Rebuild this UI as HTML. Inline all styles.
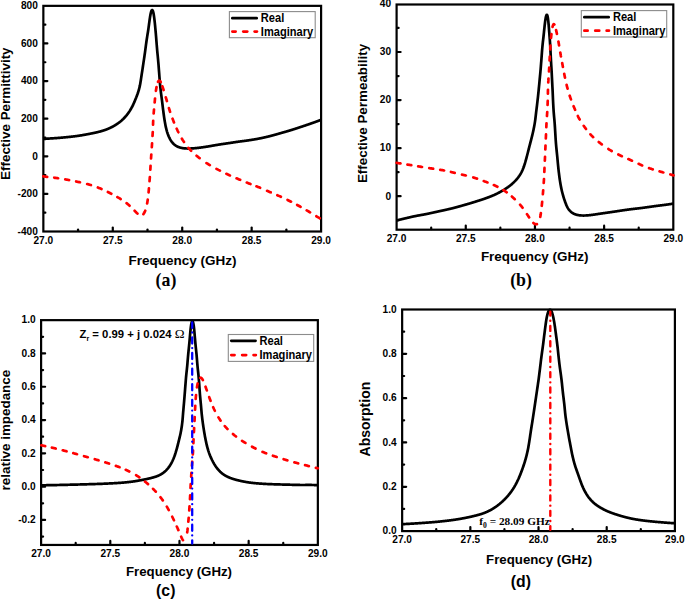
<!DOCTYPE html>
<html><head><meta charset="utf-8"><style>
html,body{margin:0;padding:0;background:#fff;}
svg{display:block;}
.fr{fill:none;stroke:#000;stroke-width:2.2;}
.t{stroke:#000;stroke-width:2.2;stroke-linecap:round;}
.tl{font-family:"Liberation Sans", sans-serif;font-weight:bold;font-size:10.15px;fill:#000;}
.re{fill:none;stroke:#000;stroke-width:2.7;stroke-linejoin:round;}
.im{fill:none;stroke:#f00;stroke-width:2.6;stroke-dasharray:4 7.3;stroke-linecap:round;stroke-linejoin:round;}
.imd{fill:none;stroke:#f00;stroke-width:2.7;stroke-linecap:round;stroke-linejoin:round;}
.ax{font-family:"Liberation Sans", sans-serif;font-weight:bold;font-size:13.25px;fill:#000;}
.lg{font-family:"Liberation Sans", sans-serif;font-weight:bold;font-size:11.1px;fill:#000;}
.lgre{stroke:#000;stroke-width:2.7;stroke-linecap:round;}
.pl{font-family:"Liberation Serif", serif;font-weight:bold;font-size:17.8px;fill:#000;}
.pls{font-family:"Liberation Sans", sans-serif;font-weight:bold;font-size:15.8px;fill:#000;}
.lgb{fill:#fff;stroke:#8c8c8c;stroke-width:1.1;}
.ddb{stroke:#00f;stroke-width:2.3;stroke-dasharray:6.1 4.6 0.01 4.9;stroke-linecap:round;}
.ddr{stroke:#f00;stroke-width:2.4;stroke-dasharray:5 5.2 0.01 5.2;stroke-linecap:round;}
.an{font-family:"Liberation Sans", sans-serif;font-weight:bold;font-size:11.3px;fill:#000;}
.om{font-family:"Liberation Serif", serif;font-weight:normal;font-size:13.2px;}
.an2{font-family:"Liberation Serif", serif;font-weight:bold;font-size:11.3px;fill:#000;}
</style></head><body>
<svg width="685" height="600" viewBox="0 0 685 600">
<line x1="78.07" y1="230.90" x2="78.07" y2="229.50" class="t"/>
<line x1="112.79" y1="230.90" x2="112.79" y2="227.50" class="t"/>
<line x1="147.51" y1="230.90" x2="147.51" y2="229.50" class="t"/>
<line x1="182.22" y1="230.90" x2="182.22" y2="227.50" class="t"/>
<line x1="216.94" y1="230.90" x2="216.94" y2="229.50" class="t"/>
<line x1="251.66" y1="230.90" x2="251.66" y2="227.50" class="t"/>
<line x1="286.38" y1="230.90" x2="286.38" y2="229.50" class="t"/>
<line x1="43.95" y1="212.70" x2="45.35" y2="212.70" class="t"/>
<line x1="43.95" y1="193.89" x2="47.35" y2="193.89" class="t"/>
<line x1="43.95" y1="175.09" x2="45.35" y2="175.09" class="t"/>
<line x1="43.95" y1="156.28" x2="47.35" y2="156.28" class="t"/>
<line x1="43.95" y1="137.48" x2="45.35" y2="137.48" class="t"/>
<line x1="43.95" y1="118.67" x2="47.35" y2="118.67" class="t"/>
<line x1="43.95" y1="99.87" x2="45.35" y2="99.87" class="t"/>
<line x1="43.95" y1="81.07" x2="47.35" y2="81.07" class="t"/>
<line x1="43.95" y1="62.26" x2="45.35" y2="62.26" class="t"/>
<line x1="43.95" y1="43.46" x2="47.35" y2="43.46" class="t"/>
<line x1="43.95" y1="24.65" x2="45.35" y2="24.65" class="t"/>
<rect x="43.35" y="5.85" width="277.75" height="225.65" class="fr"/>
<text x="37.85" y="234.80" class="tl" text-anchor="end">-400</text>
<text x="37.85" y="197.19" class="tl" text-anchor="end">-200</text>
<text x="37.85" y="159.58" class="tl" text-anchor="end">0</text>
<text x="37.85" y="121.97" class="tl" text-anchor="end">200</text>
<text x="37.85" y="84.37" class="tl" text-anchor="end">400</text>
<text x="37.85" y="46.76" class="tl" text-anchor="end">600</text>
<text x="37.85" y="9.15" class="tl" text-anchor="end">800</text>
<text x="43.35" y="243.80" class="tl" text-anchor="middle">27.0</text>
<text x="112.79" y="243.80" class="tl" text-anchor="middle">27.5</text>
<text x="182.22" y="243.80" class="tl" text-anchor="middle">28.0</text>
<text x="251.66" y="243.80" class="tl" text-anchor="middle">28.5</text>
<text x="321.10" y="243.80" class="tl" text-anchor="middle">29.0</text>
<line x1="431.19" y1="229.10" x2="431.19" y2="227.70" class="t"/>
<line x1="465.77" y1="229.10" x2="465.77" y2="225.70" class="t"/>
<line x1="500.36" y1="229.10" x2="500.36" y2="227.70" class="t"/>
<line x1="534.95" y1="229.10" x2="534.95" y2="225.70" class="t"/>
<line x1="569.54" y1="229.10" x2="569.54" y2="227.70" class="t"/>
<line x1="604.12" y1="229.10" x2="604.12" y2="225.70" class="t"/>
<line x1="638.71" y1="229.10" x2="638.71" y2="227.70" class="t"/>
<line x1="397.20" y1="220.23" x2="398.60" y2="220.23" class="t"/>
<line x1="397.20" y1="196.20" x2="400.60" y2="196.20" class="t"/>
<line x1="397.20" y1="172.17" x2="398.60" y2="172.17" class="t"/>
<line x1="397.20" y1="148.13" x2="400.60" y2="148.13" class="t"/>
<line x1="397.20" y1="124.10" x2="398.60" y2="124.10" class="t"/>
<line x1="397.20" y1="100.07" x2="400.60" y2="100.07" class="t"/>
<line x1="397.20" y1="76.03" x2="398.60" y2="76.03" class="t"/>
<line x1="397.20" y1="52.00" x2="400.60" y2="52.00" class="t"/>
<line x1="397.20" y1="27.97" x2="398.60" y2="27.97" class="t"/>
<rect x="396.60" y="4.50" width="276.70" height="225.20" class="fr"/>
<text x="391.10" y="199.50" class="tl" text-anchor="end">0</text>
<text x="391.10" y="151.43" class="tl" text-anchor="end">10</text>
<text x="391.10" y="103.37" class="tl" text-anchor="end">20</text>
<text x="391.10" y="55.30" class="tl" text-anchor="end">30</text>
<text x="391.10" y="7.23" class="tl" text-anchor="end">40</text>
<text x="396.60" y="242.00" class="tl" text-anchor="middle">27.0</text>
<text x="465.77" y="242.00" class="tl" text-anchor="middle">27.5</text>
<text x="534.95" y="242.00" class="tl" text-anchor="middle">28.0</text>
<text x="604.12" y="242.00" class="tl" text-anchor="middle">28.5</text>
<text x="673.30" y="242.00" class="tl" text-anchor="middle">29.0</text>
<line x1="75.69" y1="544.35" x2="75.69" y2="542.95" class="t"/>
<line x1="110.29" y1="544.35" x2="110.29" y2="540.95" class="t"/>
<line x1="144.88" y1="544.35" x2="144.88" y2="542.95" class="t"/>
<line x1="179.47" y1="544.35" x2="179.47" y2="540.95" class="t"/>
<line x1="214.07" y1="544.35" x2="214.07" y2="542.95" class="t"/>
<line x1="248.66" y1="544.35" x2="248.66" y2="540.95" class="t"/>
<line x1="283.26" y1="544.35" x2="283.26" y2="542.95" class="t"/>
<line x1="41.70" y1="536.62" x2="43.10" y2="536.62" class="t"/>
<line x1="41.70" y1="519.97" x2="45.10" y2="519.97" class="t"/>
<line x1="41.70" y1="503.32" x2="43.10" y2="503.32" class="t"/>
<line x1="41.70" y1="486.67" x2="45.10" y2="486.67" class="t"/>
<line x1="41.70" y1="470.02" x2="43.10" y2="470.02" class="t"/>
<line x1="41.70" y1="453.36" x2="45.10" y2="453.36" class="t"/>
<line x1="41.70" y1="436.71" x2="43.10" y2="436.71" class="t"/>
<line x1="41.70" y1="420.06" x2="45.10" y2="420.06" class="t"/>
<line x1="41.70" y1="403.41" x2="43.10" y2="403.41" class="t"/>
<line x1="41.70" y1="386.76" x2="45.10" y2="386.76" class="t"/>
<line x1="41.70" y1="370.11" x2="43.10" y2="370.11" class="t"/>
<line x1="41.70" y1="353.45" x2="45.10" y2="353.45" class="t"/>
<line x1="41.70" y1="336.80" x2="43.10" y2="336.80" class="t"/>
<rect x="41.10" y="320.15" width="276.75" height="224.80" class="fr"/>
<text x="35.60" y="523.27" class="tl" text-anchor="end">-0.2</text>
<text x="35.60" y="489.97" class="tl" text-anchor="end">0.0</text>
<text x="35.60" y="456.66" class="tl" text-anchor="end">0.2</text>
<text x="35.60" y="423.36" class="tl" text-anchor="end">0.4</text>
<text x="35.60" y="390.06" class="tl" text-anchor="end">0.6</text>
<text x="35.60" y="356.75" class="tl" text-anchor="end">0.8</text>
<text x="35.60" y="323.45" class="tl" text-anchor="end">1.0</text>
<text x="41.10" y="557.25" class="tl" text-anchor="middle">27.0</text>
<text x="110.29" y="557.25" class="tl" text-anchor="middle">27.5</text>
<text x="179.47" y="557.25" class="tl" text-anchor="middle">28.0</text>
<text x="248.66" y="557.25" class="tl" text-anchor="middle">28.5</text>
<text x="317.85" y="557.25" class="tl" text-anchor="middle">29.0</text>
<line x1="436.24" y1="530.50" x2="436.24" y2="529.10" class="t"/>
<line x1="470.34" y1="530.50" x2="470.34" y2="527.10" class="t"/>
<line x1="504.43" y1="530.50" x2="504.43" y2="529.10" class="t"/>
<line x1="538.52" y1="530.50" x2="538.52" y2="527.10" class="t"/>
<line x1="572.62" y1="530.50" x2="572.62" y2="529.10" class="t"/>
<line x1="606.71" y1="530.50" x2="606.71" y2="527.10" class="t"/>
<line x1="640.81" y1="530.50" x2="640.81" y2="529.10" class="t"/>
<line x1="402.75" y1="508.94" x2="404.15" y2="508.94" class="t"/>
<line x1="402.75" y1="486.78" x2="406.15" y2="486.78" class="t"/>
<line x1="402.75" y1="464.62" x2="404.15" y2="464.62" class="t"/>
<line x1="402.75" y1="442.46" x2="406.15" y2="442.46" class="t"/>
<line x1="402.75" y1="420.30" x2="404.15" y2="420.30" class="t"/>
<line x1="402.75" y1="398.14" x2="406.15" y2="398.14" class="t"/>
<line x1="402.75" y1="375.98" x2="404.15" y2="375.98" class="t"/>
<line x1="402.75" y1="353.82" x2="406.15" y2="353.82" class="t"/>
<line x1="402.75" y1="331.66" x2="404.15" y2="331.66" class="t"/>
<rect x="402.15" y="309.50" width="272.75" height="221.60" class="fr"/>
<text x="396.65" y="534.40" class="tl" text-anchor="end">0.0</text>
<text x="396.65" y="490.08" class="tl" text-anchor="end">0.2</text>
<text x="396.65" y="445.76" class="tl" text-anchor="end">0.4</text>
<text x="396.65" y="401.44" class="tl" text-anchor="end">0.6</text>
<text x="396.65" y="357.12" class="tl" text-anchor="end">0.8</text>
<text x="396.65" y="312.80" class="tl" text-anchor="end">1.0</text>
<text x="402.15" y="543.40" class="tl" text-anchor="middle">27.0</text>
<text x="470.34" y="543.40" class="tl" text-anchor="middle">27.5</text>
<text x="538.52" y="543.40" class="tl" text-anchor="middle">28.0</text>
<text x="606.71" y="543.40" class="tl" text-anchor="middle">28.5</text>
<text x="674.90" y="543.40" class="tl" text-anchor="middle">29.0</text>
<path d="M43.33,138.97 L43.57,138.95 L43.80,138.93 L44.03,138.91 L44.26,138.89 L44.49,138.87 L44.72,138.86 L44.96,138.84 L45.19,138.82 L45.42,138.80 L45.65,138.79 L45.88,138.77 L46.11,138.75 L46.35,138.73 L46.58,138.72 L46.81,138.70 L47.04,138.69 L47.27,138.67 L47.50,138.65 L47.74,138.64 L47.97,138.62 L48.20,138.61 L48.43,138.59 L48.66,138.58 L48.90,138.56 L49.13,138.55 L49.36,138.53 L49.59,138.52 L49.82,138.50 L50.06,138.49 L50.29,138.47 L50.52,138.46 L50.75,138.44 L50.98,138.43 L51.22,138.41 L51.45,138.40 L51.68,138.39 L51.91,138.37 L52.14,138.36 L52.38,138.34 L52.61,138.33 L52.84,138.32 L53.07,138.30 L53.30,138.29 L53.54,138.27 L53.77,138.26 L54.00,138.24 L54.23,138.23 L54.46,138.21 L54.70,138.20 L54.93,138.18 L55.16,138.17 L55.39,138.15 L55.62,138.13 L55.86,138.12 L56.09,138.10 L56.32,138.09 L56.55,138.07 L56.78,138.05 L57.02,138.03 L57.25,138.02 L57.48,138.00 L57.71,137.98 L57.94,137.96 L58.18,137.95 L58.41,137.93 L58.64,137.91 L58.87,137.89 L59.10,137.87 L59.33,137.85 L59.57,137.83 L59.80,137.81 L60.03,137.79 L60.26,137.77 L60.49,137.75 L60.72,137.73 L60.96,137.71 L61.19,137.69 L61.42,137.67 L61.65,137.65 L61.88,137.63 L62.11,137.61 L62.35,137.59 L62.58,137.57 L62.81,137.55 L63.04,137.53 L63.27,137.50 L63.50,137.48 L63.74,137.46 L63.97,137.44 L64.20,137.42 L64.43,137.40 L64.66,137.37 L64.89,137.35 L65.13,137.33 L65.36,137.31 L65.59,137.28 L65.82,137.26 L66.05,137.24 L66.28,137.22 L66.52,137.19 L66.75,137.17 L66.98,137.15 L67.21,137.12 L67.44,137.10 L67.67,137.08 L67.91,137.05 L68.14,137.03 L68.37,137.01 L68.60,136.98 L68.83,136.96 L69.06,136.93 L69.30,136.91 L69.53,136.89 L69.76,136.86 L69.99,136.84 L70.22,136.81 L70.46,136.79 L70.69,136.76 L70.92,136.74 L71.15,136.71 L71.38,136.69 L71.61,136.66 L71.84,136.63 L72.08,136.61 L72.31,136.58 L72.54,136.55 L72.77,136.53 L73.00,136.50 L73.23,136.47 L73.47,136.44 L73.70,136.42 L73.93,136.39 L74.16,136.36 L74.39,136.33 L74.62,136.30 L74.86,136.27 L75.09,136.25 L75.32,136.22 L75.55,136.19 L75.78,136.16 L76.01,136.13 L76.24,136.09 L76.48,136.06 L76.71,136.03 L76.94,136.00 L77.17,135.97 L77.40,135.94 L77.63,135.90 L77.86,135.87 L78.10,135.84 L78.33,135.80 L78.56,135.77 L78.79,135.74 L79.02,135.70 L79.25,135.67 L79.48,135.63 L79.71,135.59 L79.94,135.56 L80.18,135.52 L80.41,135.49 L80.64,135.45 L80.87,135.41 L81.10,135.37 L81.33,135.33 L81.56,135.30 L81.79,135.26 L82.02,135.22 L82.25,135.18 L82.48,135.14 L82.71,135.10 L82.95,135.06 L83.18,135.02 L83.41,134.98 L83.64,134.93 L83.87,134.89 L84.10,134.85 L84.33,134.81 L84.56,134.77 L84.79,134.73 L85.02,134.68 L85.25,134.64 L85.48,134.60 L85.71,134.56 L85.94,134.51 L86.17,134.47 L86.41,134.43 L86.64,134.38 L86.87,134.34 L87.10,134.30 L87.33,134.25 L87.56,134.21 L87.79,134.17 L88.02,134.12 L88.25,134.08 L88.48,134.03 L88.71,133.99 L88.95,133.95 L89.18,133.90 L89.41,133.86 L89.64,133.81 L89.87,133.77 L90.10,133.72 L90.33,133.68 L90.56,133.63 L90.79,133.59 L91.03,133.54 L91.26,133.50 L91.49,133.45 L91.72,133.40 L91.95,133.36 L92.18,133.31 L92.41,133.26 L92.65,133.22 L92.88,133.17 L93.11,133.12 L93.34,133.07 L93.57,133.03 L93.80,132.98 L94.04,132.93 L94.27,132.88 L94.50,132.83 L94.73,132.78 L94.96,132.73 L95.19,132.68 L95.43,132.63 L95.66,132.58 L95.89,132.52 L96.12,132.47 L96.35,132.42 L96.59,132.37 L96.82,132.31 L97.05,132.26 L97.28,132.20 L97.51,132.15 L97.74,132.09 L97.98,132.04 L98.21,131.98 L98.44,131.92 L98.67,131.87 L98.90,131.81 L99.14,131.75 L99.37,131.69 L99.60,131.63 L99.83,131.57 L100.06,131.51 L100.30,131.44 L100.53,131.38 L100.76,131.32 L100.99,131.25 L101.22,131.18 L101.46,131.12 L101.69,131.05 L101.92,130.98 L102.15,130.91 L102.38,130.84 L102.61,130.77 L102.85,130.70 L103.08,130.63 L103.31,130.56 L103.54,130.48 L103.77,130.41 L104.00,130.33 L104.23,130.25 L104.46,130.17 L104.69,130.09 L104.93,130.01 L105.16,129.93 L105.39,129.85 L105.62,129.77 L105.85,129.68 L106.08,129.60 L106.31,129.51 L106.54,129.42 L106.77,129.33 L107.00,129.24 L107.23,129.15 L107.46,129.06 L107.69,128.97 L107.92,128.87 L108.15,128.77 L108.38,128.68 L108.61,128.58 L108.84,128.48 L109.07,128.38 L109.29,128.28 L109.52,128.17 L109.75,128.07 L109.98,127.96 L110.21,127.86 L110.44,127.75 L110.67,127.64 L110.90,127.53 L111.13,127.42 L111.35,127.30 L111.58,127.19 L111.81,127.07 L112.04,126.95 L112.27,126.84 L112.50,126.72 L112.72,126.59 L112.95,126.47 L113.18,126.35 L113.41,126.22 L113.64,126.09 L113.86,125.96 L114.09,125.83 L114.32,125.70 L114.55,125.57 L114.78,125.43 L115.00,125.30 L115.23,125.16 L115.46,125.02 L115.69,124.88 L115.92,124.73 L116.14,124.59 L116.37,124.44 L116.60,124.29 L116.83,124.14 L117.06,123.99 L117.28,123.83 L117.51,123.67 L117.74,123.51 L117.97,123.35 L118.20,123.19 L118.43,123.02 L118.65,122.86 L118.88,122.69 L119.11,122.51 L119.34,122.34 L119.57,122.16 L119.80,121.98 L120.03,121.80 L120.26,121.61 L120.48,121.43 L120.71,121.24 L120.94,121.04 L121.17,120.85 L121.40,120.65 L121.63,120.45 L121.86,120.24 L122.09,120.03 L122.32,119.82 L122.55,119.61 L122.79,119.39 L123.02,119.17 L123.25,118.94 L123.48,118.71 L123.71,118.48 L123.94,118.24 L124.18,118.00 L124.41,117.76 L124.64,117.51 L124.87,117.26 L125.11,117.00 L125.34,116.74 L125.58,116.47 L125.81,116.20 L126.05,115.93 L126.28,115.65 L126.52,115.36 L126.75,115.07 L126.99,114.78 L127.23,114.47 L127.46,114.17 L127.70,113.85 L127.94,113.53 L128.17,113.21 L128.41,112.88 L128.65,112.54 L128.89,112.19 L129.13,111.84 L129.37,111.48 L129.60,111.11 L129.84,110.74 L130.08,110.35 L130.32,109.96 L130.56,109.56 L130.80,109.16 L131.04,108.74 L131.28,108.32 L131.52,107.88 L131.76,107.44 L132.00,106.99 L132.24,106.52 L132.48,106.05 L132.72,105.57 L132.96,105.07 L133.20,104.57 L133.44,104.05 L133.68,103.52 L133.92,102.98 L134.17,102.43 L134.41,101.87 L134.66,101.29 L134.91,100.70 L135.16,100.10 L135.41,99.48 L135.67,98.85 L135.92,98.21 L136.19,97.55 L136.45,96.87 L136.71,96.18 L136.98,95.47 L137.25,94.75 L137.52,94.01 L137.78,93.24 L138.05,92.46 L138.31,91.66 L138.56,90.83 L138.81,89.99 L139.05,89.12 L139.28,88.22 L139.50,87.31 L139.71,86.37 L139.92,85.40 L140.11,84.41 L140.30,83.39 L140.48,82.34 L140.65,81.27 L140.82,80.18 L141.00,79.05 L141.17,77.91 L141.35,76.73 L141.53,75.53 L141.72,74.30 L141.91,73.04 L142.11,71.76 L142.31,70.44 L142.52,69.10 L142.72,67.72 L142.94,66.32 L143.15,64.88 L143.37,63.42 L143.59,61.92 L143.82,60.39 L144.05,58.84 L144.29,57.25 L144.52,55.64 L144.76,53.99 L144.99,52.32 L145.22,50.62 L145.45,48.90 L145.68,47.16 L145.91,45.39 L146.15,43.61 L146.40,41.81 L146.65,40.01 L146.93,38.19 L147.22,36.38 L147.51,34.57 L147.81,32.76 L148.09,30.97 L148.35,29.19 L148.60,27.43 L148.83,25.70 L149.06,24.02 L149.28,22.38 L149.50,20.80 L149.71,19.29 L149.92,17.85 L150.13,16.50 L150.35,15.25 L150.57,14.10 L150.79,13.08 L151.01,12.18 L151.24,11.43 L151.46,10.83 L151.69,10.38 L151.92,10.11 L152.14,10.01 L152.35,10.09 L152.58,10.35 L152.81,10.81 L153.04,11.46 L153.28,12.31 L153.51,13.35 L153.73,14.59 L153.96,16.01 L154.19,17.62 L154.41,19.41 L154.64,21.36 L154.86,23.47 L155.09,25.72 L155.32,28.11 L155.55,30.62 L155.78,33.23 L156.01,35.94 L156.23,38.73 L156.46,41.58 L156.69,44.49 L156.93,47.43 L157.18,50.40 L157.47,53.37 L157.77,56.35 L158.05,59.32 L158.31,62.27 L158.55,65.20 L158.77,68.09 L158.98,70.94 L159.20,73.73 L159.41,76.48 L159.62,79.16 L159.84,81.78 L160.06,84.33 L160.30,86.81 L160.55,89.22 L160.82,91.55 L161.11,93.81 L161.40,95.99 L161.68,98.11 L161.94,100.15 L162.19,102.12 L162.42,104.02 L162.64,105.85 L162.85,107.61 L163.06,109.31 L163.27,110.94 L163.47,112.51 L163.67,114.02 L163.87,115.47 L164.07,116.86 L164.26,118.20 L164.46,119.48 L164.65,120.71 L164.85,121.89 L165.05,123.03 L165.25,124.11 L165.45,125.15 L165.65,126.15 L165.86,127.11 L166.07,128.03 L166.28,128.90 L166.50,129.75 L166.72,130.55 L166.94,131.33 L167.16,132.07 L167.39,132.78 L167.61,133.46 L167.84,134.11 L168.07,134.73 L168.30,135.33 L168.53,135.90 L168.76,136.45 L169.00,136.98 L169.23,137.48 L169.46,137.97 L169.70,138.43 L169.93,138.87 L170.17,139.30 L170.40,139.71 L170.64,140.10 L170.87,140.48 L171.11,140.84 L171.34,141.19 L171.58,141.52 L171.81,141.84 L172.05,142.14 L172.29,142.44 L172.52,142.72 L172.76,142.99 L172.99,143.25 L173.23,143.50 L173.46,143.73 L173.70,143.96 L173.94,144.18 L174.17,144.39 L174.41,144.60 L174.64,144.79 L174.88,144.98 L175.12,145.15 L175.35,145.32 L175.59,145.49 L175.82,145.65 L176.06,145.80 L176.30,145.94 L176.53,146.08 L176.77,146.21 L177.01,146.34 L177.24,146.46 L177.48,146.57 L177.71,146.68 L177.95,146.79 L178.18,146.89 L178.42,146.99 L178.66,147.08 L178.89,147.17 L179.13,147.26 L179.36,147.34 L179.60,147.41 L179.83,147.49 L180.07,147.56 L180.30,147.62 L180.54,147.69 L180.77,147.75 L181.01,147.80 L181.24,147.86 L181.48,147.91 L181.71,147.96 L181.94,148.00 L182.18,148.05 L182.41,148.09 L182.65,148.13 L182.88,148.16 L183.11,148.20 L183.35,148.23 L183.58,148.26 L183.82,148.29 L184.05,148.32 L184.28,148.34 L184.52,148.36 L184.75,148.39 L184.98,148.41 L185.21,148.42 L185.45,148.44 L185.68,148.46 L185.91,148.47 L186.15,148.48 L186.38,148.49 L186.61,148.50 L186.85,148.51 L187.08,148.52 L187.31,148.52 L187.54,148.53 L187.78,148.53 L188.01,148.53 L188.24,148.53 L188.47,148.53 L188.70,148.53 L188.94,148.53 L189.17,148.53 L189.40,148.52 L189.63,148.52 L189.87,148.51 L190.10,148.51 L190.33,148.50 L190.56,148.49 L190.79,148.48 L191.03,148.47 L191.26,148.46 L191.49,148.45 L191.72,148.44 L191.95,148.43 L192.18,148.41 L192.42,148.40 L192.65,148.39 L192.88,148.37 L193.11,148.35 L193.34,148.34 L193.57,148.32 L193.81,148.30 L194.04,148.28 L194.27,148.27 L194.50,148.25 L194.73,148.23 L194.96,148.20 L195.19,148.18 L195.42,148.16 L195.66,148.14 L195.89,148.12 L196.12,148.09 L196.35,148.07 L196.58,148.04 L196.81,148.02 L197.04,147.99 L197.27,147.97 L197.50,147.94 L197.74,147.92 L197.97,147.89 L198.20,147.86 L198.43,147.84 L198.66,147.81 L198.89,147.78 L199.12,147.75 L199.35,147.72 L199.58,147.69 L199.81,147.66 L200.04,147.63 L200.27,147.60 L200.51,147.57 L200.74,147.54 L200.97,147.51 L201.20,147.48 L201.43,147.45 L201.66,147.42 L201.89,147.38 L202.12,147.35 L202.35,147.32 L202.58,147.29 L202.81,147.25 L203.04,147.22 L203.27,147.19 L203.50,147.15 L203.73,147.12 L203.96,147.09 L204.19,147.05 L204.43,147.02 L204.66,146.98 L204.89,146.95 L205.12,146.92 L205.35,146.88 L205.58,146.85 L205.81,146.81 L206.04,146.77 L206.27,146.74 L206.50,146.70 L206.73,146.67 L206.96,146.63 L207.19,146.59 L207.42,146.56 L207.65,146.52 L207.88,146.48 L208.11,146.45 L208.34,146.41 L208.57,146.37 L208.80,146.33 L209.03,146.29 L209.26,146.26 L209.49,146.22 L209.72,146.18 L209.95,146.14 L210.18,146.10 L210.41,146.06 L210.64,146.02 L210.87,145.98 L211.10,145.94 L211.33,145.90 L211.56,145.86 L211.79,145.82 L212.02,145.78 L212.25,145.74 L212.48,145.70 L212.71,145.66 L212.94,145.62 L213.17,145.58 L213.40,145.53 L213.63,145.49 L213.86,145.45 L214.09,145.41 L214.32,145.37 L214.55,145.33 L214.78,145.29 L215.01,145.25 L215.24,145.21 L215.47,145.17 L215.70,145.13 L215.93,145.09 L216.17,145.05 L216.40,145.01 L216.63,144.98 L216.86,144.94 L217.09,144.90 L217.32,144.86 L217.55,144.82 L217.78,144.78 L218.01,144.75 L218.24,144.71 L218.47,144.67 L218.70,144.63 L218.93,144.60 L219.16,144.56 L219.39,144.52 L219.62,144.49 L219.86,144.45 L220.09,144.42 L220.32,144.38 L220.55,144.34 L220.78,144.31 L221.01,144.27 L221.24,144.24 L221.47,144.20 L221.70,144.17 L221.94,144.13 L222.17,144.10 L222.40,144.06 L222.63,144.03 L222.86,144.00 L223.09,143.96 L223.32,143.93 L223.56,143.89 L223.79,143.86 L224.02,143.83 L224.25,143.79 L224.48,143.76 L224.71,143.72 L224.94,143.69 L225.18,143.66 L225.41,143.62 L225.64,143.59 L225.87,143.56 L226.10,143.52 L226.33,143.49 L226.57,143.45 L226.80,143.42 L227.03,143.39 L227.26,143.35 L227.49,143.32 L227.72,143.28 L227.96,143.25 L228.19,143.22 L228.42,143.18 L228.65,143.15 L228.88,143.11 L229.11,143.08 L229.35,143.04 L229.58,143.01 L229.81,142.97 L230.04,142.94 L230.27,142.90 L230.50,142.87 L230.74,142.83 L230.97,142.80 L231.20,142.76 L231.43,142.73 L231.66,142.69 L231.89,142.66 L232.13,142.62 L232.36,142.59 L232.59,142.55 L232.82,142.51 L233.05,142.48 L233.29,142.44 L233.52,142.41 L233.75,142.37 L233.98,142.34 L234.21,142.30 L234.44,142.27 L234.68,142.23 L234.91,142.20 L235.14,142.16 L235.37,142.13 L235.60,142.09 L235.84,142.06 L236.07,142.02 L236.30,141.99 L236.53,141.95 L236.77,141.92 L237.00,141.89 L237.23,141.85 L237.46,141.82 L237.70,141.79 L237.93,141.75 L238.16,141.72 L238.39,141.69 L238.63,141.66 L238.86,141.62 L239.09,141.59 L239.33,141.56 L239.56,141.53 L239.79,141.50 L240.03,141.47 L240.26,141.44 L240.49,141.41 L240.73,141.38 L240.96,141.35 L241.19,141.32 L241.43,141.29 L241.66,141.26 L241.89,141.23 L242.13,141.20 L242.36,141.17 L242.59,141.14 L242.83,141.11 L243.06,141.08 L243.30,141.05 L243.53,141.02 L243.76,141.00 L244.00,140.97 L244.23,140.94 L244.47,140.91 L244.70,140.87 L244.93,140.84 L245.17,140.81 L245.40,140.78 L245.63,140.75 L245.87,140.72 L246.10,140.69 L246.34,140.66 L246.57,140.62 L246.80,140.59 L247.04,140.56 L247.27,140.52 L247.50,140.49 L247.74,140.46 L247.97,140.42 L248.20,140.39 L248.44,140.35 L248.67,140.32 L248.90,140.28 L249.14,140.25 L249.37,140.21 L249.60,140.18 L249.84,140.14 L250.07,140.10 L250.30,140.07 L250.54,140.03 L250.77,139.99 L251.00,139.96 L251.24,139.92 L251.47,139.88 L251.70,139.84 L251.94,139.81 L252.17,139.77 L252.40,139.73 L252.64,139.69 L252.87,139.65 L253.10,139.61 L253.34,139.58 L253.57,139.54 L253.80,139.50 L254.04,139.46 L254.27,139.42 L254.50,139.38 L254.74,139.34 L254.97,139.30 L255.20,139.26 L255.43,139.22 L255.67,139.18 L255.90,139.13 L256.13,139.09 L256.37,139.05 L256.60,139.01 L256.83,138.97 L257.07,138.93 L257.30,138.88 L257.53,138.84 L257.76,138.80 L258.00,138.75 L258.23,138.71 L258.46,138.67 L258.70,138.62 L258.93,138.58 L259.16,138.53 L259.39,138.49 L259.63,138.44 L259.86,138.40 L260.09,138.35 L260.32,138.30 L260.56,138.26 L260.79,138.21 L261.02,138.16 L261.25,138.11 L261.49,138.07 L261.72,138.02 L261.95,137.97 L262.18,137.92 L262.41,137.87 L262.65,137.82 L262.88,137.77 L263.11,137.72 L263.34,137.67 L263.57,137.62 L263.81,137.57 L264.04,137.52 L264.27,137.46 L264.50,137.41 L264.73,137.36 L264.97,137.31 L265.20,137.25 L265.43,137.20 L265.66,137.15 L265.89,137.09 L266.12,137.04 L266.35,136.99 L266.59,136.93 L266.82,136.88 L267.05,136.82 L267.28,136.77 L267.51,136.71 L267.74,136.66 L267.97,136.60 L268.20,136.54 L268.44,136.49 L268.67,136.43 L268.90,136.37 L269.13,136.32 L269.36,136.26 L269.59,136.20 L269.82,136.14 L270.05,136.08 L270.28,136.03 L270.52,135.97 L270.75,135.91 L270.98,135.85 L271.21,135.79 L271.44,135.73 L271.67,135.67 L271.90,135.61 L272.13,135.55 L272.36,135.49 L272.59,135.42 L272.82,135.36 L273.05,135.30 L273.28,135.24 L273.51,135.18 L273.74,135.11 L273.97,135.05 L274.20,134.99 L274.43,134.92 L274.66,134.86 L274.89,134.80 L275.12,134.73 L275.35,134.67 L275.58,134.60 L275.81,134.54 L276.04,134.47 L276.27,134.41 L276.50,134.34 L276.73,134.27 L276.96,134.21 L277.19,134.14 L277.42,134.08 L277.65,134.01 L277.88,133.94 L278.11,133.88 L278.34,133.81 L278.57,133.74 L278.80,133.68 L279.03,133.61 L279.26,133.54 L279.49,133.48 L279.72,133.41 L279.95,133.34 L280.18,133.28 L280.41,133.21 L280.64,133.15 L280.87,133.08 L281.10,133.01 L281.33,132.95 L281.56,132.88 L281.79,132.81 L282.02,132.75 L282.25,132.68 L282.49,132.62 L282.72,132.55 L282.95,132.48 L283.18,132.42 L283.41,132.35 L283.64,132.29 L283.87,132.22 L284.10,132.16 L284.33,132.09 L284.56,132.02 L284.79,131.96 L285.02,131.89 L285.25,131.83 L285.49,131.76 L285.72,131.69 L285.95,131.63 L286.18,131.56 L286.41,131.49 L286.64,131.43 L286.87,131.36 L287.10,131.29 L287.33,131.23 L287.56,131.16 L287.80,131.09 L288.03,131.02 L288.26,130.96 L288.49,130.89 L288.72,130.82 L288.95,130.75 L289.18,130.68 L289.41,130.61 L289.64,130.54 L289.87,130.48 L290.10,130.41 L290.33,130.34 L290.57,130.27 L290.80,130.20 L291.03,130.12 L291.26,130.05 L291.49,129.98 L291.72,129.91 L291.95,129.84 L292.18,129.77 L292.41,129.69 L292.64,129.62 L292.87,129.55 L293.10,129.47 L293.33,129.40 L293.56,129.33 L293.79,129.25 L294.02,129.18 L294.25,129.10 L294.48,129.03 L294.71,128.95 L294.94,128.88 L295.17,128.80 L295.40,128.73 L295.63,128.65 L295.86,128.57 L296.09,128.50 L296.32,128.42 L296.55,128.35 L296.78,128.27 L297.01,128.19 L297.24,128.12 L297.47,128.04 L297.70,127.96 L297.93,127.89 L298.16,127.81 L298.39,127.74 L298.62,127.66 L298.85,127.58 L299.08,127.51 L299.31,127.43 L299.54,127.35 L299.77,127.28 L300.00,127.20 L300.23,127.13 L300.46,127.05 L300.69,126.97 L300.92,126.90 L301.15,126.82 L301.38,126.75 L301.62,126.67 L301.85,126.59 L302.08,126.52 L302.31,126.44 L302.54,126.37 L302.77,126.29 L303.00,126.21 L303.23,126.14 L303.46,126.06 L303.70,125.98 L303.93,125.91 L304.16,125.83 L304.39,125.75 L304.62,125.68 L304.85,125.60 L305.08,125.52 L305.31,125.44 L305.55,125.37 L305.78,125.29 L306.01,125.21 L306.24,125.13 L306.47,125.06 L306.70,124.98 L306.93,124.90 L307.16,124.82 L307.40,124.74 L307.63,124.67 L307.86,124.59 L308.09,124.51 L308.32,124.43 L308.55,124.35 L308.79,124.27 L309.02,124.19 L309.25,124.11 L309.48,124.03 L309.71,123.95 L309.94,123.87 L310.17,123.79 L310.41,123.71 L310.64,123.63 L310.87,123.55 L311.10,123.47 L311.33,123.39 L311.56,123.31 L311.80,123.23 L312.03,123.15 L312.26,123.07 L312.49,122.98 L312.72,122.90 L312.95,122.82 L313.18,122.74 L313.42,122.66 L313.65,122.57 L313.88,122.49 L314.11,122.41 L314.34,122.32 L314.57,122.24 L314.81,122.16 L315.04,122.07 L315.27,121.99 L315.50,121.91 L315.73,121.82 L315.96,121.74 L316.19,121.65 L316.43,121.57 L316.66,121.48 L316.89,121.40 L317.12,121.31 L317.35,121.23 L317.58,121.14 L317.81,121.05 L318.05,120.97 L318.28,120.88 L318.51,120.80 L318.74,120.71 L318.97,120.62 L319.20,120.54 L319.44,120.45 L319.67,120.36 L319.90,120.27 L320.13,120.19 L320.36,120.10 L320.59,120.01 L320.82,119.92 L321.06,119.83" class="re"/>
<path d="M43.34,176.40 L43.89,176.46 L44.43,176.53 L44.99,176.60 L45.53,176.66 L46.09,176.73 L46.64,176.80 L47.18,176.86 M54.25,177.73 L54.81,177.80 L55.35,177.88 L55.91,177.95 L56.47,178.03 L57.02,178.10 L57.57,178.18 L58.12,178.26 M65.27,179.40 L65.81,179.50 L66.37,179.59 L66.91,179.69 L67.46,179.79 L68.01,179.89 L68.56,179.99 L69.11,180.09 M76.17,181.48 L76.71,181.60 L77.26,181.71 L77.80,181.83 L78.36,181.95 L78.90,182.07 L79.45,182.19 L79.98,182.30 M87.17,184.02 L87.69,184.16 L88.24,184.30 L88.77,184.45 L89.32,184.60 L89.85,184.76 L90.39,184.92 L90.92,185.07 M97.90,187.51 L98.40,187.71 L98.93,187.93 L99.44,188.14 L99.95,188.35 L100.46,188.57 L100.98,188.80 L101.49,189.02 M107.86,192.00 L108.35,192.24 L108.85,192.49 L109.34,192.74 L109.84,193.00 L110.34,193.25 L110.84,193.52 L111.34,193.77 M117.33,197.05 L117.79,197.31 L118.27,197.59 L118.75,197.87 L119.24,198.16 L119.72,198.45 L120.21,198.74 L120.68,199.03 M126.60,203.15 L127.02,203.50 L127.44,203.84 L127.87,204.20 L128.30,204.57 L128.72,204.95 L129.13,205.32 L129.55,205.70 M134.64,210.80 L135.04,211.21 L135.45,211.62 L135.85,212.02 L136.25,212.41 L136.65,212.80 L137.05,213.17 L137.44,213.51 M143.40,214.10 L143.65,213.78 L143.92,213.39 L144.18,212.96 L144.44,212.49 L144.70,211.94 L144.97,211.33 L145.23,210.68 M147.12,203.50 L147.21,203.00 L147.30,202.47 L147.39,201.93 L147.48,201.36 L147.57,200.78 L147.66,200.19 L147.74,199.65 M148.59,192.30 L148.64,191.81 L148.69,191.19 L148.74,190.67 L148.79,190.14 L148.83,189.61 L148.89,188.96 L148.93,188.41 M149.53,181.04 L149.57,180.57 L149.62,179.92 L149.66,179.39 L149.71,178.86 L149.75,178.32 L149.80,177.64 L149.84,177.15 M150.33,169.77 L150.36,169.26 L150.39,168.81 L150.42,168.19 L150.45,167.58 L150.48,166.95 L150.51,166.49 L150.54,165.88 M151.02,158.50 L151.05,158.06 L151.09,157.39 L151.13,156.88 L151.17,156.21 L151.21,155.70 L151.26,155.02 L151.29,154.61 M151.81,147.23 L151.85,146.71 L151.89,146.01 L151.93,145.48 L151.96,144.95 L152.00,144.42 L152.04,143.72 L152.06,143.33 M152.51,135.95 L152.54,135.57 L152.58,134.86 L152.61,134.33 L152.65,133.81 L152.68,133.28 L152.72,132.57 L152.75,132.06 M153.05,124.67 L153.07,124.24 L153.08,123.56 L153.10,123.06 L153.12,122.38 L153.14,121.88 L153.17,121.21 L153.19,120.77 M153.67,113.42 L153.72,112.85 L153.77,112.23 L153.82,111.63 L153.86,111.17 L153.91,110.57 L153.96,109.98 L154.00,109.53 M154.66,102.38 L154.71,101.82 L154.76,101.31 L154.82,100.69 L154.88,100.07 L154.94,99.46 L154.98,98.99 L155.03,98.50 M155.90,90.89 L155.99,90.34 L156.09,89.68 L156.18,89.12 L156.27,88.58 L156.36,88.07 L156.46,87.50 L156.55,87.05 M158.00,81.83 L158.35,81.23 L158.73,80.85 L159.19,80.67 L159.66,80.76 L160.06,81.06 L160.40,81.47 L160.73,82.02 M162.41,86.29 L162.57,86.81 L162.73,87.30 L162.90,87.84 L163.07,88.39 L163.24,88.95 L163.40,89.47 L163.57,90.02 M165.79,97.28 L165.95,97.83 L166.10,98.34 L166.27,98.90 L166.43,99.45 L166.59,100.00 L166.74,100.50 L166.89,101.02 M168.92,108.08 L169.07,108.58 L169.25,109.15 L169.41,109.68 L169.58,110.24 L169.75,110.76 L169.92,111.31 L170.08,111.80 M172.56,118.77 L172.77,119.31 L172.97,119.83 L173.18,120.37 L173.38,120.88 L173.59,121.41 L173.79,121.90 L173.99,122.40 M176.70,128.72 L176.94,129.25 L177.18,129.77 L177.42,130.28 L177.66,130.79 L177.91,131.29 L178.15,131.78 L178.38,132.24 M181.91,138.72 L182.20,139.20 L182.50,139.69 L182.81,140.17 L183.10,140.63 L183.40,141.10 L183.71,141.56 L184.01,142.00 M188.47,147.87 L188.84,148.30 L189.21,148.72 L189.60,149.14 L189.97,149.55 L190.35,149.96 L190.73,150.35 L191.11,150.74 M196.54,155.72 L196.98,156.07 L197.41,156.43 L197.85,156.78 L198.28,157.13 L198.72,157.48 L199.15,157.82 L199.59,158.15 M206.51,163.05 L206.97,163.34 L207.45,163.65 L207.92,163.94 L208.40,164.24 L208.87,164.53 L209.35,164.82 L209.82,165.10 M216.47,168.83 L216.96,169.09 L217.46,169.35 L217.96,169.61 L218.44,169.87 L218.94,170.12 L219.44,170.38 L219.93,170.63 M226.40,173.79 L226.90,174.02 L227.40,174.25 L227.91,174.49 L228.42,174.73 L228.93,174.96 L229.43,175.19 L229.94,175.41 M236.59,178.32 L237.10,178.54 L237.61,178.76 L238.12,178.98 L238.64,179.20 L239.15,179.42 L239.66,179.64 L240.17,179.85 M246.83,182.61 L247.33,182.81 L247.86,183.02 L248.38,183.22 L248.90,183.43 L249.42,183.63 L249.95,183.83 L250.46,184.03 M256.48,186.34 L256.99,186.53 L257.52,186.74 L258.03,186.95 L258.55,187.16 L259.07,187.37 L259.59,187.58 L260.10,187.79 M267.12,190.81 L267.63,191.03 L268.14,191.25 L268.65,191.48 L269.16,191.70 L269.68,191.92 L270.19,192.14 L270.70,192.36 M277.33,195.21 L277.84,195.43 L278.34,195.65 L278.85,195.88 L279.37,196.11 L279.88,196.34 L280.38,196.56 L280.89,196.79 M287.55,199.94 L288.04,200.18 L288.55,200.43 L289.04,200.68 L289.55,200.93 L290.04,201.18 L290.55,201.44 L291.03,201.69 M297.15,204.94 L297.63,205.20 L298.12,205.47 L298.61,205.74 L299.11,206.01 L299.60,206.28 L300.09,206.55 L300.56,206.82 M306.70,210.35 L307.17,210.63 L307.64,210.91 L308.13,211.20 L308.61,211.49 L309.09,211.78 L309.56,212.07 L310.04,212.36 M316.34,216.24 L316.81,216.53 L317.30,216.82 L317.78,217.10 L318.25,217.39 L318.73,217.67 L319.22,217.95 L319.70,218.23" class="imd"/>
<path d="M396.58,220.45 L396.81,220.40 L397.05,220.34 L397.28,220.28 L397.51,220.23 L397.74,220.17 L397.97,220.11 L398.20,220.06 L398.43,220.00 L398.66,219.94 L398.89,219.89 L399.12,219.83 L399.35,219.78 L399.58,219.72 L399.81,219.66 L400.04,219.61 L400.27,219.55 L400.50,219.50 L400.73,219.44 L400.96,219.38 L401.19,219.33 L401.42,219.27 L401.65,219.22 L401.88,219.16 L402.11,219.11 L402.34,219.05 L402.58,218.99 L402.81,218.94 L403.04,218.88 L403.27,218.83 L403.50,218.77 L403.73,218.72 L403.96,218.66 L404.19,218.61 L404.42,218.55 L404.65,218.50 L404.88,218.44 L405.11,218.39 L405.34,218.33 L405.57,218.28 L405.80,218.22 L406.03,218.17 L406.26,218.12 L406.49,218.06 L406.72,218.01 L406.95,217.95 L407.18,217.90 L407.41,217.84 L407.64,217.79 L407.88,217.74 L408.11,217.68 L408.34,217.63 L408.57,217.58 L408.80,217.52 L409.03,217.47 L409.26,217.42 L409.49,217.36 L409.72,217.31 L409.95,217.26 L410.18,217.21 L410.41,217.15 L410.64,217.10 L410.87,217.05 L411.10,217.00 L411.34,216.94 L411.57,216.89 L411.80,216.84 L412.03,216.79 L412.26,216.74 L412.49,216.69 L412.72,216.64 L412.95,216.59 L413.18,216.54 L413.41,216.49 L413.65,216.44 L413.88,216.39 L414.11,216.34 L414.34,216.29 L414.57,216.24 L414.80,216.20 L415.03,216.15 L415.27,216.10 L415.50,216.05 L415.73,216.01 L415.96,215.96 L416.19,215.91 L416.42,215.87 L416.66,215.82 L416.89,215.78 L417.12,215.74 L417.35,215.69 L417.59,215.65 L417.82,215.61 L418.05,215.56 L418.28,215.52 L418.52,215.48 L418.75,215.44 L418.98,215.40 L419.22,215.36 L419.45,215.31 L419.68,215.27 L419.91,215.23 L420.15,215.19 L420.38,215.15 L420.61,215.11 L420.85,215.07 L421.08,215.03 L421.31,214.99 L421.54,214.95 L421.78,214.91 L422.01,214.87 L422.24,214.83 L422.48,214.79 L422.71,214.74 L422.94,214.70 L423.17,214.66 L423.41,214.62 L423.64,214.57 L423.87,214.53 L424.10,214.49 L424.33,214.44 L424.57,214.40 L424.80,214.35 L425.03,214.31 L425.26,214.26 L425.49,214.22 L425.72,214.17 L425.96,214.12 L426.19,214.08 L426.42,214.03 L426.65,213.98 L426.88,213.94 L427.11,213.89 L427.34,213.84 L427.58,213.79 L427.81,213.74 L428.04,213.70 L428.27,213.65 L428.50,213.60 L428.73,213.55 L428.96,213.50 L429.19,213.45 L429.42,213.40 L429.65,213.35 L429.88,213.30 L430.11,213.25 L430.35,213.20 L430.58,213.15 L430.81,213.10 L431.04,213.05 L431.27,213.00 L431.50,212.95 L431.73,212.90 L431.96,212.85 L432.19,212.80 L432.42,212.75 L432.65,212.70 L432.88,212.65 L433.11,212.60 L433.34,212.55 L433.57,212.50 L433.80,212.44 L434.03,212.39 L434.26,212.34 L434.49,212.29 L434.72,212.24 L434.95,212.19 L435.19,212.14 L435.42,212.08 L435.65,212.03 L435.88,211.98 L436.11,211.93 L436.34,211.88 L436.57,211.83 L436.80,211.77 L437.03,211.72 L437.26,211.67 L437.49,211.62 L437.72,211.57 L437.95,211.52 L438.18,211.46 L438.41,211.41 L438.64,211.36 L438.87,211.31 L439.10,211.26 L439.33,211.21 L439.56,211.16 L439.79,211.11 L440.02,211.06 L440.25,211.01 L440.48,210.96 L440.72,210.91 L440.95,210.86 L441.18,210.81 L441.41,210.76 L441.64,210.71 L441.87,210.66 L442.10,210.61 L442.33,210.56 L442.56,210.51 L442.79,210.46 L443.02,210.41 L443.25,210.36 L443.49,210.31 L443.72,210.26 L443.95,210.21 L444.18,210.16 L444.41,210.11 L444.64,210.06 L444.87,210.01 L445.10,209.96 L445.33,209.91 L445.56,209.86 L445.79,209.81 L446.02,209.76 L446.26,209.71 L446.49,209.66 L446.72,209.60 L446.95,209.55 L447.18,209.50 L447.41,209.45 L447.64,209.40 L447.87,209.35 L448.10,209.29 L448.33,209.24 L448.56,209.19 L448.79,209.14 L449.02,209.08 L449.25,209.03 L449.48,208.98 L449.71,208.92 L449.94,208.87 L450.17,208.81 L450.40,208.76 L450.63,208.71 L450.86,208.65 L451.09,208.59 L451.32,208.54 L451.55,208.48 L451.78,208.43 L452.01,208.37 L452.24,208.31 L452.47,208.26 L452.70,208.20 L452.93,208.14 L453.16,208.08 L453.39,208.02 L453.62,207.96 L453.85,207.90 L454.08,207.85 L454.31,207.79 L454.54,207.72 L454.76,207.66 L454.99,207.60 L455.22,207.54 L455.45,207.48 L455.68,207.42 L455.91,207.36 L456.14,207.29 L456.37,207.23 L456.59,207.17 L456.82,207.11 L457.05,207.04 L457.28,206.98 L457.51,206.92 L457.74,206.85 L457.97,206.79 L458.19,206.72 L458.42,206.66 L458.65,206.60 L458.88,206.53 L459.11,206.47 L459.34,206.40 L459.56,206.34 L459.79,206.27 L460.02,206.21 L460.25,206.14 L460.48,206.08 L460.71,206.02 L460.94,205.95 L461.16,205.89 L461.39,205.82 L461.62,205.76 L461.85,205.69 L462.08,205.63 L462.31,205.56 L462.54,205.50 L462.76,205.43 L462.99,205.37 L463.22,205.30 L463.45,205.24 L463.68,205.17 L463.91,205.11 L464.14,205.04 L464.37,204.98 L464.59,204.91 L464.82,204.85 L465.05,204.78 L465.28,204.72 L465.51,204.65 L465.74,204.59 L465.97,204.52 L466.20,204.46 L466.42,204.39 L466.65,204.32 L466.88,204.26 L467.11,204.19 L467.34,204.13 L467.57,204.06 L467.80,203.99 L468.03,203.93 L468.25,203.86 L468.48,203.79 L468.71,203.72 L468.94,203.66 L469.17,203.59 L469.40,203.52 L469.63,203.45 L469.86,203.39 L470.08,203.32 L470.31,203.25 L470.54,203.18 L470.77,203.11 L471.00,203.04 L471.23,202.97 L471.46,202.90 L471.68,202.83 L471.91,202.76 L472.14,202.69 L472.37,202.62 L472.60,202.55 L472.83,202.48 L473.06,202.41 L473.29,202.34 L473.51,202.27 L473.74,202.20 L473.97,202.13 L474.20,202.06 L474.43,201.99 L474.66,201.92 L474.89,201.84 L475.12,201.77 L475.34,201.70 L475.57,201.63 L475.80,201.56 L476.03,201.48 L476.26,201.41 L476.49,201.34 L476.72,201.27 L476.95,201.19 L477.18,201.12 L477.40,201.05 L477.63,200.98 L477.86,200.90 L478.09,200.83 L478.32,200.76 L478.55,200.68 L478.78,200.61 L479.01,200.54 L479.24,200.46 L479.47,200.39 L479.70,200.31 L479.93,200.24 L480.16,200.16 L480.39,200.09 L480.62,200.02 L480.85,199.94 L481.08,199.87 L481.31,199.79 L481.54,199.71 L481.77,199.64 L482.00,199.56 L482.23,199.49 L482.46,199.41 L482.69,199.33 L482.92,199.26 L483.15,199.18 L483.38,199.10 L483.61,199.02 L483.84,198.94 L484.07,198.87 L484.30,198.79 L484.53,198.71 L484.76,198.63 L484.99,198.55 L485.22,198.47 L485.45,198.39 L485.68,198.30 L485.91,198.22 L486.15,198.14 L486.38,198.06 L486.61,197.97 L486.84,197.89 L487.07,197.81 L487.30,197.72 L487.53,197.64 L487.76,197.55 L487.99,197.47 L488.22,197.38 L488.45,197.29 L488.68,197.21 L488.91,197.12 L489.14,197.03 L489.38,196.94 L489.61,196.85 L489.84,196.76 L490.07,196.67 L490.30,196.58 L490.53,196.49 L490.76,196.39 L490.99,196.30 L491.22,196.21 L491.45,196.11 L491.69,196.02 L491.92,195.92 L492.15,195.82 L492.38,195.73 L492.61,195.63 L492.84,195.53 L493.07,195.43 L493.30,195.33 L493.53,195.23 L493.77,195.13 L494.00,195.03 L494.23,194.92 L494.46,194.82 L494.69,194.71 L494.92,194.61 L495.15,194.50 L495.38,194.40 L495.62,194.29 L495.85,194.18 L496.08,194.07 L496.31,193.96 L496.54,193.85 L496.77,193.74 L497.01,193.62 L497.24,193.51 L497.47,193.39 L497.70,193.28 L497.93,193.16 L498.17,193.04 L498.40,192.92 L498.63,192.80 L498.86,192.68 L499.09,192.56 L499.33,192.44 L499.56,192.32 L499.79,192.19 L500.03,192.07 L500.26,191.94 L500.49,191.81 L500.73,191.68 L500.96,191.55 L501.19,191.42 L501.43,191.29 L501.66,191.16 L501.89,191.02 L502.13,190.89 L502.36,190.75 L502.60,190.61 L502.83,190.47 L503.07,190.33 L503.30,190.19 L503.54,190.05 L503.78,189.91 L504.01,189.76 L504.25,189.61 L504.49,189.47 L504.72,189.32 L504.96,189.17 L505.20,189.01 L505.44,188.86 L505.68,188.70 L505.92,188.55 L506.16,188.39 L506.40,188.23 L506.64,188.07 L506.88,187.90 L507.12,187.74 L507.36,187.57 L507.60,187.40 L507.84,187.23 L508.08,187.06 L508.32,186.88 L508.57,186.70 L508.81,186.52 L509.05,186.34 L509.30,186.16 L509.54,185.97 L509.79,185.78 L510.03,185.59 L510.28,185.40 L510.52,185.20 L510.77,185.00 L511.01,184.80 L511.26,184.60 L511.51,184.39 L511.76,184.18 L512.00,183.97 L512.25,183.75 L512.50,183.53 L512.75,183.31 L513.00,183.08 L513.24,182.86 L513.49,182.62 L513.74,182.39 L513.99,182.15 L514.24,181.90 L514.49,181.65 L514.74,181.40 L514.99,181.15 L515.24,180.89 L515.49,180.62 L515.74,180.35 L515.98,180.08 L516.23,179.80 L516.48,179.52 L516.73,179.23 L516.98,178.94 L517.22,178.64 L517.47,178.34 L517.71,178.03 L517.96,177.71 L518.20,177.39 L518.45,177.07 L518.69,176.73 L518.93,176.39 L519.17,176.05 L519.41,175.70 L519.64,175.34 L519.88,174.98 L520.11,174.60 L520.35,174.23 L520.58,173.84 L520.81,173.45 L521.03,173.05 L521.26,172.64 L521.48,172.22 L521.70,171.80 L521.91,171.36 L522.13,170.92 L522.34,170.47 L522.55,170.01 L522.75,169.54 L522.95,169.06 L523.15,168.58 L523.35,168.08 L523.54,167.57 L523.73,167.06 L523.91,166.53 L524.09,166.00 L524.27,165.45 L524.45,164.90 L524.63,164.33 L524.80,163.75 L524.98,163.17 L525.15,162.57 L525.33,161.97 L525.50,161.35 L525.68,160.72 L525.86,160.08 L526.04,159.43 L526.22,158.77 L526.41,158.09 L526.59,157.41 L526.78,156.71 L526.97,155.99 L527.16,155.27 L527.35,154.52 L527.55,153.77 L527.75,152.99 L527.94,152.21 L528.15,151.40 L528.35,150.58 L528.56,149.74 L528.77,148.88 L528.99,148.01 L529.22,147.12 L529.45,146.21 L529.69,145.28 L529.94,144.32 L530.19,143.35 L530.45,142.36 L530.72,141.34 L530.99,140.30 L531.27,139.23 L531.55,138.14 L531.84,137.02 L532.12,135.87 L532.40,134.69 L532.69,133.49 L532.97,132.25 L533.25,130.98 L533.53,129.68 L533.80,128.34 L534.08,126.97 L534.34,125.57 L534.60,124.12 L534.84,122.64 L535.07,121.12 L535.28,119.56 L535.48,117.96 L535.67,116.32 L535.87,114.63 L536.07,112.91 L536.28,111.14 L536.50,109.33 L536.73,107.48 L536.96,105.59 L537.19,103.65 L537.42,101.66 L537.65,99.63 L537.89,97.55 L538.12,95.42 L538.34,93.24 L538.57,91.02 L538.79,88.75 L539.02,86.44 L539.25,84.08 L539.48,81.67 L539.71,79.22 L539.95,76.73 L540.19,74.20 L540.42,71.63 L540.64,69.03 L540.86,66.39 L541.07,63.73 L541.28,61.05 L541.49,58.34 L541.69,55.63 L541.89,52.91 L542.10,50.19 L542.33,47.49 L542.58,44.81 L542.86,42.15 L543.16,39.55 L543.46,36.99 L543.72,34.50 L543.97,32.08 L544.21,29.75 L544.44,27.53 L544.67,25.43 L544.90,23.47 L545.12,21.67 L545.35,20.03 L545.58,18.59 L545.81,17.34 L546.04,16.32 L546.27,15.54 L546.50,15.00 L546.72,14.74 L546.93,14.74 L547.15,15.00 L547.37,15.57 L547.60,16.43 L547.82,17.59 L548.04,19.04 L548.25,20.80 L548.46,22.84 L548.67,25.16 L548.88,27.75 L549.10,30.59 L549.34,33.68 L549.59,36.99 L549.87,40.50 L550.12,44.20 L550.35,48.07 L550.55,52.08 L550.75,56.22 L550.97,60.45 L551.22,64.76 L551.49,69.13 L551.74,73.53 L551.96,77.96 L552.18,82.38 L552.41,86.79 L552.63,91.17 L552.82,95.50 L553.00,99.78 L553.21,103.99 L553.44,108.12 L553.70,112.16 L554.03,116.11 L554.39,119.95 L554.69,123.70 L554.94,127.34 L555.15,130.87 L555.36,134.30 L555.55,137.61 L555.77,140.82 L556.00,143.90 L556.26,146.88 L556.54,149.75 L556.83,152.51 L557.10,155.16 L557.35,157.71 L557.58,160.17 L557.81,162.52 L558.02,164.79 L558.23,166.96 L558.45,169.04 L558.67,171.03 L558.90,172.95 L559.13,174.78 L559.35,176.53 L559.58,178.21 L559.81,179.82 L560.05,181.36 L560.28,182.83 L560.52,184.24 L560.76,185.59 L561.01,186.88 L561.26,188.11 L561.51,189.29 L561.76,190.42 L562.01,191.49 L562.27,192.52 L562.53,193.51 L562.78,194.45 L563.04,195.35 L563.29,196.21 L563.54,197.03 L563.78,197.82 L564.02,198.58 L564.25,199.30 L564.48,200.00 L564.71,200.67 L564.92,201.31 L565.14,201.92 L565.35,202.51 L565.56,203.08 L565.77,203.62 L565.97,204.14 L566.18,204.64 L566.38,205.13 L566.59,205.59 L566.79,206.03 L567.00,206.46 L567.20,206.87 L567.41,207.26 L567.62,207.64 L567.83,208.00 L568.04,208.35 L568.25,208.68 L568.47,209.00 L568.68,209.31 L568.90,209.60 L569.12,209.88 L569.33,210.15 L569.55,210.41 L569.77,210.66 L569.99,210.90 L570.22,211.13 L570.44,211.35 L570.66,211.56 L570.89,211.76 L571.11,211.96 L571.34,212.14 L571.56,212.32 L571.79,212.49 L572.02,212.66 L572.25,212.81 L572.47,212.96 L572.70,213.11 L572.93,213.24 L573.16,213.38 L573.39,213.50 L573.62,213.62 L573.85,213.74 L574.08,213.85 L574.31,213.95 L574.55,214.05 L574.78,214.15 L575.01,214.24 L575.24,214.32 L575.47,214.41 L575.70,214.48 L575.94,214.56 L576.17,214.63 L576.40,214.70 L576.63,214.76 L576.87,214.82 L577.10,214.88 L577.33,214.93 L577.56,214.98 L577.80,215.03 L578.03,215.08 L578.26,215.12 L578.49,215.16 L578.73,215.20 L578.96,215.23 L579.19,215.27 L579.42,215.30 L579.66,215.33 L579.89,215.35 L580.12,215.38 L580.35,215.40 L580.59,215.42 L580.82,215.44 L581.05,215.45 L581.28,215.47 L581.51,215.48 L581.75,215.49 L581.98,215.50 L582.21,215.51 L582.44,215.52 L582.68,215.52 L582.91,215.53 L583.14,215.53 L583.37,215.53 L583.60,215.53 L583.84,215.53 L584.07,215.53 L584.30,215.52 L584.53,215.52 L584.76,215.51 L584.99,215.51 L585.22,215.50 L585.46,215.49 L585.69,215.48 L585.92,215.47 L586.15,215.46 L586.38,215.44 L586.61,215.43 L586.84,215.41 L587.08,215.40 L587.31,215.38 L587.54,215.36 L587.77,215.34 L588.00,215.33 L588.23,215.31 L588.46,215.28 L588.69,215.26 L588.92,215.24 L589.15,215.22 L589.38,215.19 L589.61,215.17 L589.84,215.15 L590.08,215.12 L590.31,215.09 L590.54,215.07 L590.77,215.04 L591.00,215.01 L591.23,214.98 L591.46,214.95 L591.69,214.92 L591.92,214.89 L592.15,214.86 L592.38,214.83 L592.61,214.80 L592.84,214.77 L593.07,214.74 L593.30,214.71 L593.53,214.67 L593.76,214.64 L593.99,214.61 L594.22,214.57 L594.45,214.54 L594.68,214.51 L594.91,214.47 L595.14,214.44 L595.37,214.40 L595.59,214.37 L595.82,214.34 L596.05,214.30 L596.28,214.27 L596.51,214.23 L596.74,214.20 L596.97,214.16 L597.20,214.13 L597.43,214.09 L597.66,214.06 L597.89,214.02 L598.12,213.99 L598.35,213.95 L598.58,213.92 L598.81,213.89 L599.04,213.85 L599.27,213.82 L599.50,213.78 L599.73,213.75 L599.96,213.71 L600.19,213.68 L600.42,213.65 L600.65,213.61 L600.88,213.58 L601.11,213.54 L601.34,213.51 L601.57,213.48 L601.80,213.44 L602.03,213.41 L602.26,213.38 L602.49,213.34 L602.72,213.31 L602.95,213.28 L603.18,213.24 L603.41,213.21 L603.64,213.18 L603.87,213.14 L604.11,213.11 L604.34,213.08 L604.57,213.04 L604.80,213.01 L605.03,212.98 L605.26,212.95 L605.49,212.91 L605.72,212.88 L605.95,212.85 L606.18,212.81 L606.41,212.78 L606.64,212.75 L606.87,212.72 L607.10,212.68 L607.33,212.65 L607.56,212.62 L607.79,212.58 L608.02,212.55 L608.25,212.52 L608.48,212.49 L608.71,212.45 L608.94,212.42 L609.17,212.39 L609.40,212.35 L609.64,212.32 L609.87,212.29 L610.10,212.25 L610.33,212.22 L610.56,212.19 L610.79,212.15 L611.02,212.12 L611.25,212.09 L611.48,212.05 L611.71,212.02 L611.94,211.99 L612.17,211.95 L612.40,211.92 L612.63,211.89 L612.86,211.85 L613.09,211.82 L613.32,211.78 L613.55,211.75 L613.78,211.71 L614.01,211.68 L614.24,211.65 L614.47,211.61 L614.70,211.58 L614.93,211.54 L615.16,211.51 L615.39,211.47 L615.62,211.44 L615.85,211.40 L616.08,211.37 L616.31,211.33 L616.54,211.30 L616.77,211.26 L617.00,211.23 L617.23,211.19 L617.46,211.16 L617.70,211.12 L617.93,211.09 L618.16,211.05 L618.39,211.02 L618.62,210.98 L618.85,210.95 L619.08,210.91 L619.31,210.87 L619.54,210.84 L619.77,210.80 L620.00,210.77 L620.23,210.73 L620.46,210.70 L620.69,210.66 L620.92,210.63 L621.15,210.59 L621.38,210.56 L621.61,210.52 L621.84,210.49 L622.07,210.46 L622.30,210.42 L622.53,210.39 L622.76,210.35 L622.99,210.32 L623.22,210.28 L623.45,210.25 L623.68,210.22 L623.91,210.18 L624.14,210.15 L624.37,210.12 L624.60,210.08 L624.83,210.05 L625.06,210.02 L625.29,209.98 L625.52,209.95 L625.75,209.92 L625.98,209.89 L626.22,209.85 L626.45,209.82 L626.68,209.79 L626.91,209.76 L627.14,209.73 L627.37,209.69 L627.60,209.66 L627.83,209.63 L628.06,209.60 L628.29,209.57 L628.52,209.54 L628.75,209.51 L628.98,209.48 L629.21,209.45 L629.44,209.42 L629.68,209.39 L629.91,209.36 L630.14,209.33 L630.37,209.30 L630.60,209.27 L630.83,209.24 L631.06,209.21 L631.29,209.18 L631.52,209.15 L631.75,209.12 L631.99,209.09 L632.22,209.07 L632.45,209.04 L632.68,209.01 L632.91,208.98 L633.14,208.96 L633.37,208.93 L633.60,208.90 L633.84,208.88 L634.07,208.85 L634.30,208.82 L634.53,208.80 L634.76,208.77 L634.99,208.75 L635.22,208.72 L635.46,208.70 L635.69,208.67 L635.92,208.65 L636.15,208.62 L636.38,208.60 L636.61,208.57 L636.84,208.54 L637.08,208.52 L637.31,208.49 L637.54,208.47 L637.77,208.44 L638.00,208.42 L638.23,208.39 L638.46,208.36 L638.70,208.34 L638.93,208.31 L639.16,208.28 L639.39,208.26 L639.62,208.23 L639.85,208.20 L640.08,208.17 L640.31,208.14 L640.54,208.11 L640.78,208.08 L641.01,208.06 L641.24,208.03 L641.47,208.00 L641.70,207.97 L641.93,207.94 L642.16,207.90 L642.39,207.87 L642.62,207.84 L642.85,207.81 L643.08,207.78 L643.31,207.75 L643.55,207.72 L643.78,207.69 L644.01,207.66 L644.24,207.62 L644.47,207.59 L644.70,207.56 L644.93,207.53 L645.16,207.50 L645.39,207.46 L645.62,207.43 L645.85,207.40 L646.08,207.37 L646.31,207.34 L646.54,207.30 L646.77,207.27 L647.00,207.24 L647.23,207.21 L647.47,207.18 L647.70,207.14 L647.93,207.11 L648.16,207.08 L648.39,207.05 L648.62,207.01 L648.85,206.98 L649.08,206.95 L649.31,206.92 L649.54,206.89 L649.77,206.85 L650.00,206.82 L650.23,206.79 L650.46,206.76 L650.69,206.72 L650.92,206.69 L651.16,206.66 L651.39,206.63 L651.62,206.60 L651.85,206.56 L652.08,206.53 L652.31,206.50 L652.54,206.47 L652.77,206.43 L653.00,206.40 L653.23,206.37 L653.46,206.34 L653.69,206.31 L653.92,206.28 L654.15,206.24 L654.38,206.21 L654.62,206.18 L654.85,206.15 L655.08,206.12 L655.31,206.09 L655.54,206.06 L655.77,206.02 L656.00,205.99 L656.23,205.96 L656.46,205.93 L656.69,205.90 L656.92,205.87 L657.16,205.84 L657.39,205.81 L657.62,205.78 L657.85,205.75 L658.08,205.72 L658.31,205.69 L658.54,205.66 L658.77,205.63 L659.00,205.60 L659.24,205.58 L659.47,205.55 L659.70,205.52 L659.93,205.49 L660.16,205.46 L660.39,205.43 L660.62,205.40 L660.85,205.38 L661.09,205.35 L661.32,205.32 L661.55,205.29 L661.78,205.26 L662.01,205.23 L662.24,205.21 L662.47,205.18 L662.70,205.15 L662.94,205.12 L663.17,205.09 L663.40,205.06 L663.63,205.03 L663.86,205.00 L664.09,204.97 L664.32,204.94 L664.55,204.91 L664.79,204.88 L665.02,204.85 L665.25,204.82 L665.48,204.79 L665.71,204.76 L665.94,204.73 L666.17,204.69 L666.40,204.66 L666.63,204.63 L666.86,204.60 L667.10,204.57 L667.33,204.53 L667.56,204.50 L667.79,204.47 L668.02,204.44 L668.25,204.40 L668.48,204.37 L668.71,204.34 L668.94,204.30 L669.17,204.27 L669.40,204.24 L669.63,204.20 L669.87,204.17 L670.10,204.13 L670.33,204.10 L670.56,204.06 L670.79,204.03 L671.02,204.00 L671.25,203.96 L671.48,203.93 L671.71,203.89 L671.94,203.86 L672.17,203.82 L672.40,203.79 L672.63,203.75 L672.86,203.72 L673.09,203.68 L673.33,203.65" class="re"/>
<path d="M396.65,162.94 L397.19,163.01 L397.75,163.07 L398.29,163.14 L398.83,163.22 L399.37,163.29 L399.92,163.37 L400.46,163.45 M407.43,164.60 L407.98,164.69 L408.53,164.78 L409.08,164.87 L409.63,164.95 L410.18,165.04 L410.74,165.13 L411.28,165.21 M418.19,166.32 L418.74,166.42 L419.29,166.51 L419.84,166.61 L420.39,166.70 L420.94,166.80 L421.49,166.89 L422.03,166.98 M429.27,168.14 L429.81,168.22 L430.37,168.30 L430.92,168.38 L431.48,168.46 L432.03,168.54 L432.58,168.62 L433.13,168.70 M440.22,169.80 L440.77,169.90 L441.31,169.99 L441.87,170.09 L442.42,170.19 L442.97,170.30 L443.52,170.40 L444.06,170.50 M450.92,171.95 L451.46,172.07 L452.01,172.20 L452.55,172.33 L453.10,172.46 L453.64,172.58 L454.19,172.72 L454.72,172.84 M462.01,174.59 L462.54,174.71 L463.09,174.84 L463.63,174.97 L464.18,175.10 L464.72,175.23 L465.27,175.36 L465.81,175.48 M473.30,177.46 L473.83,177.62 L474.36,177.78 L474.89,177.95 L475.43,178.12 L475.96,178.29 L476.49,178.47 L477.02,178.64 M483.81,181.05 L484.32,181.25 L484.84,181.44 L485.37,181.64 L485.89,181.84 L486.41,182.05 L486.94,182.25 L487.45,182.45 M493.88,185.09 L494.38,185.31 L494.89,185.54 L495.40,185.77 L495.90,186.00 L496.41,186.24 L496.92,186.48 L497.42,186.72 M503.46,190.09 L503.93,190.39 L504.38,190.69 L504.85,191.00 L505.31,191.32 L505.78,191.64 L506.23,191.97 L506.68,192.30 M511.88,196.55 L512.29,196.91 L512.70,197.29 L513.11,197.66 L513.51,198.03 L513.93,198.42 L514.34,198.81 L514.75,199.19 M520.10,204.73 L520.46,205.14 L520.81,205.56 L521.17,205.99 L521.53,206.43 L521.89,206.87 L522.24,207.31 L522.58,207.75 M527.01,214.17 L527.31,214.63 L527.62,215.11 L527.92,215.57 L528.22,216.04 L528.52,216.50 L528.84,216.98 L529.14,217.44 M533.43,222.97 L533.89,223.37 L534.36,223.72 L534.85,224.00 L535.34,224.19 L535.85,224.30 L536.39,224.27 L536.92,224.11 M540.25,216.92 L540.34,216.47 L540.44,215.93 L540.53,215.41 L540.63,214.82 L540.71,214.26 L540.81,213.61 L540.89,213.07 M541.76,205.77 L541.81,205.36 L541.87,204.76 L541.92,204.25 L541.99,203.62 L542.04,203.09 L542.11,202.44 L542.16,201.89 M542.86,194.17 L542.91,193.64 L542.95,193.08 L543.00,192.51 L543.05,191.94 L543.09,191.36 L543.14,190.77 L543.18,190.28 M543.72,183.00 L543.75,182.62 L543.79,181.93 L543.83,181.41 L543.86,180.88 L543.90,180.35 L543.94,179.63 L543.98,179.11 M544.34,171.84 L544.36,171.26 L544.39,170.66 L544.41,170.05 L544.42,169.64 L544.45,169.03 L544.47,168.41 L544.49,167.94 M544.83,160.68 L544.85,160.21 L544.88,159.77 L544.91,159.09 L544.94,158.41 L544.98,157.73 L545.00,157.27 L545.03,156.78 M545.34,149.51 L545.35,149.23 L545.38,148.50 L545.40,148.01 L545.43,147.28 L545.45,146.78 L545.48,146.04 L545.50,145.61 M545.83,138.35 L545.85,137.95 L545.89,137.18 L545.91,136.66 L545.94,136.14 L545.96,135.62 L545.99,134.84 L546.01,134.45 M546.31,127.18 L546.33,126.90 L546.36,126.09 L546.39,125.56 L546.41,125.02 L546.44,124.48 L546.48,123.67 L546.49,123.28 M546.95,116.02 L546.99,115.53 L547.03,114.99 L547.07,114.44 L547.12,113.62 L547.16,113.08 L547.19,112.53 L547.22,112.13 M547.58,104.86 L547.60,104.33 L547.62,103.78 L547.65,103.24 L547.68,102.42 L547.70,101.88 L547.72,101.33 L547.73,100.97 M547.90,93.69 L547.90,93.23 L547.91,92.69 L547.92,92.16 L547.93,91.36 L547.94,90.83 L547.96,90.29 L547.97,89.79 M548.25,82.52 L548.26,82.21 L548.30,81.44 L548.33,80.93 L548.38,80.17 L548.40,79.67 L548.45,78.91 L548.47,78.63 M548.98,71.37 L549.01,70.84 L549.04,70.37 L549.08,69.66 L549.11,69.19 L549.15,68.49 L549.18,68.02 L549.21,67.48 M549.57,60.49 L549.60,60.02 L549.63,59.38 L549.67,58.75 L549.69,58.33 L549.72,57.71 L549.75,57.09 L549.78,56.59 M550.19,49.41 L550.21,49.05 L550.25,48.34 L550.29,47.81 L550.33,47.12 L550.37,46.61 L550.41,45.94 L550.44,45.52 M551.05,37.99 L551.10,37.41 L551.15,36.91 L551.21,36.29 L551.27,35.69 L551.33,35.11 L551.38,34.66 L551.45,34.11 M552.54,26.91 L552.81,25.85 L553.07,25.07 L553.33,24.52 L553.60,24.22 L553.86,24.14 L554.11,24.27 L554.37,24.58 M556.09,30.08 L556.21,30.59 L556.32,31.08 L556.44,31.64 L556.57,32.21 L556.69,32.79 L556.80,33.32 L556.92,33.89 M558.42,41.59 L558.51,42.09 L558.62,42.70 L558.71,43.24 L558.81,43.78 L558.90,44.33 L559.01,44.94 L559.09,45.43 M560.28,52.58 L560.37,53.10 L560.48,53.70 L560.57,54.24 L560.67,54.84 L560.77,55.37 L560.87,55.96 L560.96,56.42 M562.20,63.13 L562.30,63.63 L562.40,64.19 L562.51,64.74 L562.62,65.35 L562.72,65.89 L562.82,66.43 L562.92,66.96 M564.23,73.88 L564.33,74.39 L564.45,74.99 L564.55,75.52 L564.67,76.11 L564.78,76.64 L564.90,77.21 L565.00,77.70 M566.62,84.93 L566.75,85.47 L566.90,86.06 L567.03,86.60 L567.17,87.13 L567.31,87.66 L567.46,88.22 L567.59,88.70 M569.69,95.71 L569.87,96.26 L570.06,96.81 L570.24,97.35 L570.41,97.84 L570.60,98.37 L570.78,98.89 L570.96,99.40 M573.58,106.18 L573.80,106.71 L574.00,107.22 L574.22,107.76 L574.44,108.29 L574.66,108.81 L574.86,109.30 L575.06,109.79 M577.84,116.02 L578.09,116.54 L578.35,117.05 L578.61,117.55 L578.88,118.06 L579.14,118.55 L579.40,119.02 L579.65,119.48 M583.72,125.84 L584.05,126.31 L584.37,126.76 L584.71,127.22 L585.04,127.67 L585.37,128.12 L585.69,128.55 L586.02,128.99 M590.44,134.36 L590.83,134.78 L591.21,135.20 L591.60,135.60 L591.98,135.99 L592.37,136.39 L592.76,136.78 L593.15,137.16 M598.72,141.99 L599.16,142.34 L599.61,142.69 L600.04,143.03 L600.49,143.38 L600.93,143.72 L601.38,144.06 L601.80,144.38 M608.34,148.98 L608.81,149.28 L609.28,149.58 L609.76,149.87 L610.24,150.16 L610.72,150.45 L611.19,150.73 L611.67,151.00 M618.33,154.49 L618.83,154.73 L619.34,154.98 L619.84,155.22 L620.34,155.45 L620.84,155.69 L621.35,155.93 L621.85,156.16 M628.39,159.11 L628.90,159.33 L629.40,159.56 L629.92,159.79 L630.43,160.01 L630.94,160.24 L631.45,160.46 L631.96,160.69 M638.62,163.81 L639.12,164.05 L639.63,164.29 L640.13,164.53 L640.64,164.76 L641.15,165.00 L641.66,165.23 L642.16,165.45 M649.04,168.13 L649.56,168.30 L650.10,168.48 L650.62,168.66 L651.16,168.83 L651.68,169.00 L652.22,169.17 L652.75,169.34 M659.57,171.42 L660.10,171.57 L660.63,171.72 L661.17,171.87 L661.72,172.03 L662.26,172.17 L662.79,172.32 L663.33,172.46 M670.35,174.43 L670.79,174.56 L671.25,174.70 L671.70,174.84 L672.14,174.98 L672.59,175.12 L673.04,175.27 L673.49,175.41" class="imd"/>
<path d="M41.10,485.32 L41.33,485.32 L41.56,485.32 L41.79,485.31 L42.02,485.31 L42.25,485.30 L42.49,485.30 L42.72,485.29 L42.95,485.29 L43.18,485.28 L43.41,485.28 L43.64,485.27 L43.87,485.27 L44.10,485.27 L44.33,485.26 L44.56,485.26 L44.79,485.25 L45.02,485.25 L45.25,485.24 L45.48,485.24 L45.71,485.23 L45.94,485.23 L46.18,485.23 L46.41,485.22 L46.64,485.22 L46.87,485.21 L47.10,485.21 L47.33,485.20 L47.56,485.20 L47.79,485.19 L48.02,485.19 L48.25,485.19 L48.48,485.18 L48.71,485.18 L48.94,485.17 L49.17,485.17 L49.40,485.16 L49.63,485.16 L49.87,485.16 L50.10,485.15 L50.33,485.15 L50.56,485.14 L50.79,485.14 L51.02,485.13 L51.25,485.13 L51.48,485.13 L51.71,485.12 L51.94,485.12 L52.17,485.11 L52.40,485.11 L52.63,485.11 L52.86,485.10 L53.09,485.10 L53.33,485.09 L53.56,485.09 L53.79,485.09 L54.02,485.08 L54.25,485.08 L54.48,485.07 L54.71,485.07 L54.94,485.07 L55.17,485.06 L55.40,485.06 L55.63,485.05 L55.86,485.05 L56.09,485.04 L56.32,485.04 L56.55,485.04 L56.78,485.03 L57.02,485.03 L57.25,485.02 L57.48,485.02 L57.71,485.01 L57.94,485.01 L58.17,485.00 L58.40,485.00 L58.63,484.99 L58.86,484.99 L59.09,484.98 L59.32,484.98 L59.55,484.97 L59.78,484.97 L60.01,484.96 L60.24,484.96 L60.47,484.95 L60.71,484.95 L60.94,484.94 L61.17,484.94 L61.40,484.93 L61.63,484.93 L61.86,484.92 L62.09,484.92 L62.32,484.91 L62.55,484.91 L62.78,484.90 L63.01,484.90 L63.24,484.89 L63.47,484.89 L63.70,484.88 L63.93,484.87 L64.16,484.87 L64.40,484.86 L64.63,484.86 L64.86,484.85 L65.09,484.85 L65.32,484.84 L65.55,484.83 L65.78,484.83 L66.01,484.82 L66.24,484.82 L66.47,484.81 L66.70,484.81 L66.93,484.80 L67.16,484.79 L67.39,484.79 L67.62,484.78 L67.85,484.78 L68.09,484.77 L68.32,484.76 L68.55,484.76 L68.78,484.75 L69.01,484.75 L69.24,484.74 L69.47,484.73 L69.70,484.73 L69.93,484.72 L70.16,484.72 L70.39,484.71 L70.62,484.70 L70.85,484.70 L71.08,484.69 L71.31,484.69 L71.54,484.68 L71.78,484.68 L72.01,484.67 L72.24,484.66 L72.47,484.66 L72.70,484.65 L72.93,484.65 L73.16,484.64 L73.39,484.64 L73.62,484.63 L73.85,484.63 L74.08,484.62 L74.31,484.61 L74.54,484.61 L74.77,484.60 L75.00,484.60 L75.23,484.59 L75.47,484.59 L75.70,484.58 L75.93,484.58 L76.16,484.57 L76.39,484.56 L76.62,484.56 L76.85,484.55 L77.08,484.55 L77.31,484.54 L77.54,484.54 L77.77,484.53 L78.00,484.52 L78.23,484.52 L78.46,484.51 L78.69,484.51 L78.92,484.50 L79.16,484.50 L79.39,484.49 L79.62,484.48 L79.85,484.48 L80.08,484.47 L80.31,484.47 L80.54,484.46 L80.77,484.45 L81.00,484.45 L81.23,484.44 L81.46,484.44 L81.69,484.43 L81.92,484.42 L82.15,484.42 L82.38,484.41 L82.61,484.40 L82.85,484.40 L83.08,484.39 L83.31,484.39 L83.54,484.38 L83.77,484.37 L84.00,484.37 L84.23,484.36 L84.46,484.35 L84.69,484.35 L84.92,484.34 L85.15,484.33 L85.38,484.33 L85.61,484.32 L85.84,484.31 L86.07,484.31 L86.30,484.30 L86.54,484.29 L86.77,484.29 L87.00,484.28 L87.23,484.27 L87.46,484.27 L87.69,484.26 L87.92,484.25 L88.15,484.25 L88.38,484.24 L88.61,484.23 L88.84,484.22 L89.07,484.22 L89.30,484.21 L89.53,484.20 L89.76,484.20 L89.99,484.19 L90.23,484.18 L90.46,484.18 L90.69,484.17 L90.92,484.16 L91.15,484.16 L91.38,484.15 L91.61,484.14 L91.84,484.14 L92.07,484.13 L92.30,484.12 L92.53,484.12 L92.76,484.11 L92.99,484.10 L93.22,484.09 L93.45,484.09 L93.69,484.08 L93.92,484.07 L94.15,484.07 L94.38,484.06 L94.61,484.05 L94.84,484.04 L95.07,484.04 L95.30,484.03 L95.53,484.02 L95.76,484.02 L95.99,484.01 L96.22,484.00 L96.45,483.99 L96.68,483.99 L96.91,483.98 L97.14,483.97 L97.38,483.96 L97.61,483.95 L97.84,483.95 L98.07,483.94 L98.30,483.93 L98.53,483.92 L98.76,483.91 L98.99,483.91 L99.22,483.90 L99.45,483.89 L99.68,483.88 L99.91,483.87 L100.14,483.86 L100.37,483.86 L100.60,483.85 L100.84,483.84 L101.07,483.83 L101.30,483.82 L101.53,483.81 L101.76,483.80 L101.99,483.79 L102.22,483.78 L102.45,483.78 L102.68,483.77 L102.91,483.76 L103.14,483.75 L103.37,483.74 L103.60,483.73 L103.83,483.72 L104.06,483.71 L104.29,483.70 L104.52,483.69 L104.76,483.68 L104.99,483.67 L105.22,483.66 L105.45,483.65 L105.68,483.64 L105.91,483.63 L106.14,483.62 L106.37,483.61 L106.60,483.60 L106.83,483.58 L107.06,483.57 L107.29,483.56 L107.52,483.55 L107.75,483.54 L107.98,483.53 L108.21,483.52 L108.45,483.51 L108.68,483.50 L108.91,483.49 L109.14,483.47 L109.37,483.46 L109.60,483.45 L109.83,483.44 L110.06,483.43 L110.29,483.42 L110.52,483.41 L110.75,483.39 L110.98,483.38 L111.21,483.37 L111.44,483.36 L111.67,483.35 L111.90,483.33 L112.13,483.32 L112.37,483.31 L112.60,483.30 L112.83,483.29 L113.06,483.27 L113.29,483.26 L113.52,483.25 L113.75,483.24 L113.98,483.22 L114.21,483.21 L114.44,483.20 L114.67,483.18 L114.90,483.17 L115.13,483.16 L115.36,483.14 L115.59,483.13 L115.82,483.12 L116.06,483.10 L116.29,483.09 L116.52,483.08 L116.75,483.06 L116.98,483.05 L117.21,483.03 L117.44,483.02 L117.67,483.00 L117.90,482.99 L118.13,482.97 L118.36,482.96 L118.59,482.94 L118.82,482.93 L119.05,482.91 L119.28,482.90 L119.51,482.88 L119.74,482.86 L119.97,482.85 L120.20,482.83 L120.44,482.81 L120.67,482.80 L120.90,482.78 L121.13,482.76 L121.36,482.75 L121.59,482.73 L121.82,482.71 L122.05,482.69 L122.28,482.67 L122.51,482.65 L122.74,482.64 L122.97,482.62 L123.20,482.60 L123.43,482.58 L123.66,482.56 L123.89,482.54 L124.12,482.52 L124.35,482.50 L124.58,482.48 L124.81,482.46 L125.04,482.44 L125.27,482.41 L125.50,482.39 L125.73,482.37 L125.97,482.35 L126.20,482.33 L126.43,482.30 L126.66,482.28 L126.89,482.26 L127.12,482.23 L127.35,482.21 L127.58,482.19 L127.81,482.16 L128.04,482.14 L128.27,482.11 L128.50,482.08 L128.73,482.06 L128.96,482.03 L129.19,482.01 L129.42,481.98 L129.65,481.95 L129.88,481.92 L130.11,481.90 L130.34,481.87 L130.57,481.84 L130.80,481.81 L131.03,481.78 L131.26,481.75 L131.49,481.72 L131.72,481.69 L131.94,481.66 L132.17,481.63 L132.40,481.60 L132.63,481.56 L132.86,481.53 L133.09,481.50 L133.32,481.47 L133.55,481.43 L133.78,481.40 L134.01,481.37 L134.24,481.33 L134.47,481.30 L134.70,481.26 L134.93,481.23 L135.16,481.19 L135.39,481.15 L135.62,481.12 L135.84,481.08 L136.07,481.04 L136.30,481.01 L136.53,480.97 L136.76,480.93 L136.99,480.89 L137.22,480.85 L137.45,480.82 L137.68,480.78 L137.91,480.74 L138.13,480.70 L138.36,480.66 L138.59,480.62 L138.82,480.58 L139.05,480.54 L139.28,480.50 L139.51,480.46 L139.74,480.41 L139.96,480.37 L140.19,480.33 L140.42,480.29 L140.65,480.25 L140.88,480.20 L141.11,480.16 L141.34,480.12 L141.57,480.07 L141.79,480.03 L142.02,479.99 L142.25,479.94 L142.48,479.90 L142.71,479.85 L142.94,479.81 L143.17,479.76 L143.39,479.72 L143.62,479.67 L143.85,479.63 L144.08,479.58 L144.31,479.53 L144.54,479.49 L144.77,479.44 L145.00,479.39 L145.23,479.34 L145.45,479.30 L145.68,479.25 L145.91,479.20 L146.14,479.15 L146.37,479.10 L146.60,479.05 L146.83,479.00 L147.06,478.95 L147.29,478.90 L147.52,478.85 L147.75,478.80 L147.98,478.74 L148.21,478.69 L148.44,478.64 L148.67,478.59 L148.90,478.53 L149.13,478.48 L149.36,478.42 L149.59,478.37 L149.82,478.32 L150.05,478.26 L150.28,478.20 L150.51,478.15 L150.74,478.09 L150.97,478.03 L151.21,477.97 L151.44,477.91 L151.67,477.85 L151.90,477.79 L152.13,477.73 L152.37,477.67 L152.60,477.61 L152.83,477.54 L153.07,477.48 L153.30,477.41 L153.53,477.34 L153.77,477.27 L154.00,477.21 L154.24,477.13 L154.47,477.06 L154.71,476.99 L154.94,476.91 L155.18,476.84 L155.41,476.76 L155.65,476.68 L155.88,476.60 L156.12,476.52 L156.36,476.43 L156.59,476.35 L156.83,476.26 L157.06,476.17 L157.30,476.07 L157.54,475.98 L157.78,475.88 L158.01,475.78 L158.25,475.68 L158.49,475.57 L158.72,475.47 L158.96,475.36 L159.20,475.25 L159.44,475.13 L159.67,475.01 L159.91,474.89 L160.15,474.77 L160.39,474.64 L160.62,474.51 L160.86,474.37 L161.10,474.24 L161.34,474.10 L161.57,473.95 L161.81,473.81 L162.05,473.65 L162.28,473.50 L162.52,473.34 L162.76,473.18 L162.99,473.01 L163.23,472.84 L163.47,472.66 L163.70,472.49 L163.94,472.30 L164.17,472.11 L164.41,471.92 L164.65,471.72 L164.88,471.52 L165.12,471.31 L165.35,471.10 L165.58,470.88 L165.82,470.66 L166.05,470.43 L166.28,470.19 L166.52,469.95 L166.75,469.70 L166.98,469.45 L167.21,469.19 L167.44,468.93 L167.67,468.65 L167.90,468.38 L168.13,468.09 L168.36,467.80 L168.59,467.49 L168.82,467.19 L169.05,466.87 L169.28,466.55 L169.50,466.21 L169.73,465.87 L169.96,465.52 L170.19,465.17 L170.41,464.80 L170.64,464.42 L170.86,464.03 L171.09,463.64 L171.32,463.23 L171.54,462.81 L171.77,462.38 L171.99,461.94 L172.22,461.49 L172.44,461.02 L172.67,460.55 L172.89,460.05 L173.12,459.55 L173.34,459.03 L173.57,458.49 L173.79,457.94 L174.01,457.38 L174.24,456.80 L174.46,456.20 L174.68,455.58 L174.90,454.94 L175.12,454.29 L175.34,453.61 L175.57,452.92 L175.79,452.20 L176.01,451.46 L176.23,450.70 L176.46,449.92 L176.69,449.11 L176.91,448.28 L177.14,447.42 L177.38,446.54 L177.61,445.62 L177.85,444.68 L178.10,443.71 L178.34,442.71 L178.60,441.67 L178.86,440.60 L179.13,439.50 L179.40,438.36 L179.69,437.18 L179.98,435.97 L180.26,434.71 L180.54,433.41 L180.81,432.06 L181.07,430.67 L181.32,429.23 L181.56,427.73 L181.79,426.19 L182.01,424.59 L182.22,422.94 L182.42,421.24 L182.59,419.48 L182.74,417.65 L182.88,415.77 L183.03,413.83 L183.19,411.83 L183.38,409.78 L183.57,407.66 L183.77,405.48 L183.96,403.24 L184.16,400.93 L184.35,398.56 L184.55,396.13 L184.75,393.64 L184.95,391.08 L185.15,388.47 L185.35,385.80 L185.57,383.07 L185.79,380.30 L186.03,377.48 L186.30,374.62 L186.61,371.73 L186.92,368.81 L187.22,365.87 L187.48,362.91 L187.72,359.94 L187.97,356.99 L188.23,354.06 L188.52,351.16 L188.82,348.30 L189.11,345.51 L189.37,342.78 L189.61,340.15 L189.83,337.62 L190.04,335.22 L190.24,332.95 L190.43,330.84 L190.62,328.90 L190.82,327.15 L191.03,325.60 L191.25,324.27 L191.48,323.17 L191.70,322.30 L191.93,321.68 L192.16,321.31 L192.39,321.20 L192.62,321.34 L192.85,321.73 L193.07,322.38 L193.30,323.27 L193.53,324.40 L193.74,325.75 L193.95,327.33 L194.14,329.10 L194.33,331.07 L194.51,333.21 L194.70,335.50 L194.91,337.93 L195.13,340.48 L195.37,343.13 L195.64,345.88 L195.93,348.69 L196.24,351.57 L196.53,354.49 L196.78,357.44 L197.03,360.42 L197.27,363.40 L197.54,366.37 L197.84,369.33 L198.16,372.27 L198.46,375.17 L198.72,378.05 L198.96,380.88 L199.18,383.67 L199.37,386.40 L199.56,389.09 L199.74,391.71 L199.94,394.28 L200.16,396.78 L200.38,399.22 L200.61,401.59 L200.82,403.91 L201.03,406.15 L201.22,408.34 L201.40,410.46 L201.59,412.52 L201.79,414.52 L202.00,416.45 L202.22,418.33 L202.45,420.14 L202.68,421.90 L202.91,423.60 L203.15,425.25 L203.38,426.84 L203.62,428.38 L203.85,429.87 L204.08,431.32 L204.32,432.71 L204.55,434.07 L204.78,435.37 L205.01,436.64 L205.24,437.86 L205.47,439.05 L205.70,440.20 L205.93,441.31 L206.16,442.38 L206.39,443.42 L206.62,444.43 L206.85,445.40 L207.09,446.34 L207.32,447.25 L207.56,448.14 L207.80,448.99 L208.05,449.82 L208.29,450.62 L208.54,451.39 L208.79,452.14 L209.04,452.87 L209.30,453.57 L209.55,454.25 L209.81,454.91 L210.06,455.55 L210.32,456.17 L210.57,456.77 L210.82,457.36 L211.07,457.92 L211.32,458.47 L211.57,459.00 L211.82,459.52 L212.06,460.02 L212.31,460.51 L212.55,460.99 L212.79,461.45 L213.03,461.90 L213.26,462.34 L213.50,462.77 L213.73,463.18 L213.97,463.59 L214.20,463.98 L214.43,464.37 L214.66,464.74 L214.89,465.11 L215.11,465.46 L215.34,465.81 L215.57,466.15 L215.79,466.48 L216.02,466.80 L216.24,467.12 L216.47,467.43 L216.69,467.73 L216.91,468.02 L217.13,468.31 L217.35,468.59 L217.58,468.87 L217.80,469.14 L218.02,469.40 L218.24,469.66 L218.46,469.91 L218.68,470.16 L218.90,470.40 L219.12,470.64 L219.34,470.87 L219.56,471.10 L219.78,471.32 L220.00,471.54 L220.22,471.76 L220.44,471.96 L220.67,472.17 L220.89,472.37 L221.11,472.57 L221.33,472.76 L221.55,472.95 L221.78,473.13 L222.00,473.32 L222.22,473.49 L222.45,473.67 L222.67,473.84 L222.90,474.00 L223.12,474.17 L223.35,474.33 L223.57,474.49 L223.80,474.64 L224.02,474.79 L224.25,474.94 L224.48,475.08 L224.70,475.22 L224.93,475.36 L225.16,475.50 L225.39,475.63 L225.61,475.76 L225.84,475.89 L226.07,476.02 L226.30,476.14 L226.53,476.26 L226.76,476.38 L226.99,476.49 L227.22,476.61 L227.44,476.72 L227.67,476.83 L227.90,476.94 L228.13,477.04 L228.36,477.15 L228.59,477.25 L228.82,477.35 L229.05,477.45 L229.28,477.54 L229.51,477.64 L229.74,477.73 L229.97,477.82 L230.20,477.91 L230.43,478.00 L230.66,478.09 L230.89,478.17 L231.12,478.26 L231.35,478.34 L231.58,478.42 L231.81,478.50 L232.04,478.58 L232.27,478.66 L232.51,478.74 L232.74,478.81 L232.97,478.89 L233.20,478.96 L233.43,479.03 L233.66,479.10 L233.89,479.17 L234.12,479.24 L234.35,479.31 L234.58,479.38 L234.81,479.45 L235.04,479.51 L235.27,479.58 L235.50,479.65 L235.73,479.71 L235.96,479.77 L236.19,479.84 L236.42,479.90 L236.65,479.96 L236.88,480.02 L237.11,480.08 L237.34,480.14 L237.57,480.20 L237.80,480.25 L238.03,480.31 L238.26,480.37 L238.49,480.42 L238.72,480.48 L238.94,480.54 L239.17,480.59 L239.40,480.64 L239.63,480.70 L239.86,480.75 L240.09,480.80 L240.32,480.85 L240.55,480.91 L240.78,480.96 L241.01,481.01 L241.24,481.06 L241.47,481.11 L241.70,481.16 L241.93,481.20 L242.16,481.25 L242.39,481.30 L242.62,481.35 L242.85,481.39 L243.08,481.44 L243.31,481.49 L243.54,481.53 L243.77,481.58 L244.00,481.62 L244.23,481.66 L244.46,481.71 L244.69,481.75 L244.92,481.79 L245.15,481.83 L245.38,481.88 L245.61,481.92 L245.84,481.96 L246.07,482.00 L246.31,482.04 L246.54,482.08 L246.77,482.11 L247.00,482.15 L247.23,482.19 L247.46,482.23 L247.69,482.26 L247.92,482.30 L248.15,482.34 L248.38,482.37 L248.61,482.41 L248.84,482.44 L249.07,482.47 L249.30,482.51 L249.53,482.54 L249.76,482.57 L249.99,482.60 L250.22,482.63 L250.46,482.66 L250.69,482.69 L250.92,482.72 L251.15,482.75 L251.38,482.78 L251.61,482.81 L251.84,482.84 L252.07,482.86 L252.30,482.89 L252.53,482.92 L252.76,482.94 L252.99,482.97 L253.23,482.99 L253.46,483.02 L253.69,483.04 L253.92,483.07 L254.15,483.09 L254.38,483.11 L254.61,483.14 L254.84,483.16 L255.07,483.18 L255.31,483.20 L255.54,483.22 L255.77,483.24 L256.00,483.27 L256.23,483.29 L256.46,483.31 L256.69,483.33 L256.92,483.35 L257.15,483.36 L257.39,483.38 L257.62,483.40 L257.85,483.42 L258.08,483.44 L258.31,483.46 L258.54,483.47 L258.77,483.49 L259.00,483.51 L259.23,483.53 L259.47,483.54 L259.70,483.56 L259.93,483.58 L260.16,483.59 L260.39,483.61 L260.62,483.63 L260.85,483.64 L261.08,483.66 L261.31,483.67 L261.54,483.69 L261.78,483.70 L262.01,483.72 L262.24,483.73 L262.47,483.75 L262.70,483.76 L262.93,483.78 L263.16,483.79 L263.39,483.81 L263.62,483.82 L263.86,483.83 L264.09,483.85 L264.32,483.86 L264.55,483.88 L264.78,483.89 L265.01,483.90 L265.24,483.91 L265.47,483.93 L265.70,483.94 L265.93,483.95 L266.16,483.97 L266.40,483.98 L266.63,483.99 L266.86,484.00 L267.09,484.01 L267.32,484.02 L267.55,484.04 L267.78,484.05 L268.01,484.06 L268.24,484.07 L268.47,484.08 L268.71,484.09 L268.94,484.10 L269.17,484.11 L269.40,484.12 L269.63,484.13 L269.86,484.14 L270.09,484.15 L270.32,484.16 L270.55,484.17 L270.78,484.17 L271.02,484.18 L271.25,484.19 L271.48,484.20 L271.71,484.21 L271.94,484.22 L272.17,484.22 L272.40,484.23 L272.63,484.24 L272.86,484.25 L273.09,484.25 L273.33,484.26 L273.56,484.27 L273.79,484.28 L274.02,484.28 L274.25,484.29 L274.48,484.30 L274.71,484.30 L274.94,484.31 L275.17,484.32 L275.40,484.32 L275.63,484.33 L275.87,484.34 L276.10,484.35 L276.33,484.35 L276.56,484.36 L276.79,484.37 L277.02,484.37 L277.25,484.38 L277.48,484.39 L277.71,484.39 L277.94,484.40 L278.17,484.41 L278.41,484.41 L278.64,484.42 L278.87,484.43 L279.10,484.44 L279.33,484.44 L279.56,484.45 L279.79,484.46 L280.02,484.46 L280.25,484.47 L280.48,484.48 L280.71,484.48 L280.94,484.49 L281.18,484.50 L281.41,484.50 L281.64,484.51 L281.87,484.52 L282.10,484.52 L282.33,484.53 L282.56,484.54 L282.79,484.54 L283.02,484.55 L283.25,484.56 L283.48,484.56 L283.71,484.57 L283.94,484.58 L284.18,484.58 L284.41,484.59 L284.64,484.59 L284.87,484.60 L285.10,484.61 L285.33,484.61 L285.56,484.62 L285.79,484.62 L286.02,484.63 L286.25,484.63 L286.48,484.64 L286.71,484.65 L286.94,484.65 L287.18,484.66 L287.41,484.66 L287.64,484.67 L287.87,484.67 L288.10,484.68 L288.33,484.68 L288.56,484.69 L288.79,484.70 L289.02,484.70 L289.25,484.71 L289.48,484.71 L289.71,484.72 L289.94,484.72 L290.18,484.73 L290.41,484.73 L290.64,484.74 L290.87,484.75 L291.10,484.75 L291.33,484.76 L291.56,484.76 L291.79,484.77 L292.02,484.78 L292.25,484.78 L292.48,484.79 L292.71,484.79 L292.94,484.80 L293.17,484.81 L293.41,484.81 L293.64,484.82 L293.87,484.83 L294.10,484.83 L294.33,484.84 L294.56,484.84 L294.79,484.85 L295.02,484.86 L295.25,484.86 L295.48,484.87 L295.71,484.88 L295.94,484.88 L296.17,484.89 L296.40,484.89 L296.63,484.90 L296.87,484.91 L297.10,484.91 L297.33,484.92 L297.56,484.92 L297.79,484.93 L298.02,484.93 L298.25,484.94 L298.48,484.94 L298.71,484.95 L298.94,484.95 L299.17,484.96 L299.40,484.96 L299.63,484.97 L299.86,484.97 L300.10,484.98 L300.33,484.98 L300.56,484.98 L300.79,484.98 L301.02,484.99 L301.25,484.99 L301.48,484.99 L301.71,484.99 L301.94,484.99 L302.17,484.99 L302.40,484.99 L302.63,484.99 L302.87,484.99 L303.10,484.99 L303.33,484.99 L303.56,484.99 L303.79,484.99 L304.02,484.99 L304.25,484.99 L304.48,484.98 L304.71,484.98 L304.94,484.98 L305.17,484.98 L305.40,484.97 L305.64,484.97 L305.87,484.97 L306.10,484.97 L306.33,484.96 L306.56,484.96 L306.79,484.96 L307.02,484.96 L307.25,484.96 L307.48,484.96 L307.71,484.95 L307.94,484.95 L308.18,484.95 L308.41,484.95 L308.64,484.95 L308.87,484.95 L309.10,484.95 L309.33,484.95 L309.56,484.95 L309.79,484.95 L310.02,484.96 L310.25,484.96 L310.48,484.96 L310.71,484.96 L310.94,484.97 L311.18,484.97 L311.41,484.97 L311.64,484.97 L311.87,484.98 L312.10,484.98 L312.33,484.99 L312.56,484.99 L312.79,484.99 L313.02,485.00 L313.25,485.00 L313.48,485.01 L313.71,485.01 L313.94,485.02 L314.17,485.03 L314.40,485.03 L314.64,485.04 L314.87,485.04 L315.10,485.05 L315.33,485.06 L315.56,485.06 L315.79,485.07 L316.02,485.08 L316.25,485.08 L316.48,485.09 L316.71,485.10 L316.94,485.10 L317.17,485.11 L317.40,485.12 L317.63,485.13 L317.86,485.13" class="re"/>
<path d="M41.36,445.26 L41.89,445.38 L42.44,445.51 L42.98,445.63 L43.53,445.76 L44.08,445.88 L44.62,446.01 L45.16,446.13 M51.90,447.67 L52.43,447.79 L52.98,447.92 L53.52,448.05 L54.08,448.18 L54.62,448.31 L55.16,448.43 L55.70,448.56 M62.77,450.29 L63.31,450.43 L63.85,450.57 L64.39,450.71 L64.92,450.84 L65.47,450.98 L66.01,451.12 L66.55,451.27 M73.28,453.12 L73.81,453.27 L74.35,453.43 L74.89,453.58 L75.41,453.74 L75.95,453.89 L76.49,454.05 L77.02,454.20 M84.03,456.20 L84.57,456.35 L85.10,456.49 L85.65,456.64 L86.18,456.79 L86.72,456.94 L87.25,457.09 L87.79,457.23 M94.79,459.21 L95.32,459.37 L95.86,459.53 L96.39,459.68 L96.93,459.84 L97.46,459.99 L98.01,460.15 L98.53,460.31 M105.32,462.37 L105.85,462.54 L106.38,462.70 L106.91,462.87 L107.45,463.05 L107.98,463.22 L108.51,463.39 L109.04,463.56 M115.88,465.86 L116.41,466.05 L116.93,466.24 L117.46,466.43 L117.97,466.62 L118.50,466.82 L119.02,467.02 L119.54,467.22 M125.77,469.83 L126.28,470.06 L126.78,470.29 L127.29,470.52 L127.79,470.76 L128.30,471.00 L128.80,471.23 L129.30,471.48 M136.10,475.20 L136.57,475.49 L137.03,475.78 L137.51,476.09 L137.97,476.39 L138.44,476.71 L138.90,477.02 L139.36,477.34 M145.04,481.60 L145.46,481.94 L145.89,482.30 L146.32,482.65 L146.74,483.01 L147.17,483.37 L147.60,483.74 L148.03,484.11 M153.08,488.83 L153.46,489.22 L153.84,489.60 L154.23,490.01 L154.63,490.41 L155.02,490.83 L155.40,491.23 L155.78,491.65 M160.48,497.22 L160.80,497.64 L161.13,498.07 L161.46,498.52 L161.80,498.98 L162.13,499.44 L162.46,499.90 L162.79,500.36 M166.84,506.68 L167.12,507.15 L167.39,507.61 L167.67,508.10 L167.94,508.57 L168.22,509.07 L168.49,509.56 L168.77,510.07 M172.24,516.77 L172.47,517.24 L172.72,517.75 L172.96,518.24 L173.20,518.76 L173.44,519.26 L173.69,519.79 L173.93,520.29 M176.80,526.56 L177.02,527.06 L177.24,527.55 L177.47,528.08 L177.69,528.58 L177.92,529.10 L178.14,529.60 L178.37,530.13 M181.18,536.74 L181.44,537.33 L181.69,537.88 L181.96,538.42 L182.22,538.94 L182.48,539.41 L182.73,539.82 L182.99,540.19 M187.19,532.46 L187.25,531.97 L187.31,531.50 L187.38,530.94 L187.44,530.35 L187.51,529.74 L187.57,529.21 L187.64,528.58 M188.33,521.62 L188.37,521.19 L188.43,520.57 L188.48,520.06 L188.53,519.42 L188.58,518.90 L188.64,518.23 L188.68,517.74 M189.25,510.32 L189.29,509.83 L189.32,509.35 L189.36,508.70 L189.40,508.21 L189.44,507.54 L189.47,507.04 L189.51,506.42 M189.96,499.14 L189.99,498.67 L190.02,498.11 L190.05,497.54 L190.09,496.97 L190.12,496.39 L190.15,495.81 L190.18,495.25 M190.52,487.95 L190.55,487.37 L190.57,486.96 L190.60,486.33 L190.63,485.70 L190.67,485.07 L190.69,484.65 L190.72,484.06 M191.16,476.77 L191.19,476.21 L191.22,475.76 L191.26,475.10 L191.29,474.66 L191.33,473.99 L191.36,473.55 L191.40,472.88 M191.90,465.60 L191.95,464.98 L191.99,464.53 L192.05,463.85 L192.09,463.39 L192.15,462.71 L192.19,462.26 L192.24,461.72 M192.83,454.44 L192.87,453.83 L192.90,453.38 L192.94,452.69 L192.96,452.24 L193.00,451.56 L193.03,451.11 L193.06,450.55 M193.39,443.26 L193.40,442.81 L193.42,442.36 L193.45,441.70 L193.47,441.04 L193.50,440.38 L193.52,439.94 L193.54,439.36 M193.92,432.07 L193.95,431.60 L193.98,430.98 L194.02,430.35 L194.04,429.94 L194.07,429.32 L194.11,428.71 L194.14,428.18 M194.53,420.89 L194.55,420.44 L194.58,419.88 L194.61,419.32 L194.64,418.57 L194.67,418.02 L194.69,417.47 L194.71,416.99 M195.07,409.70 L195.10,409.19 L195.12,408.71 L195.15,408.07 L195.19,407.44 L195.22,406.81 L195.24,406.35 L195.27,405.80 M195.69,398.92 L195.73,398.34 L195.77,397.84 L195.82,397.22 L195.88,396.61 L195.93,396.01 L195.97,395.54 L196.02,395.03 M196.96,387.33 L197.06,386.72 L197.16,386.12 L197.26,385.55 L197.37,384.93 L197.47,384.41 L197.56,383.91 L197.65,383.49 M200.21,377.75 L200.66,377.70 L201.10,377.85 L201.50,378.13 L201.85,378.51 L202.20,378.99 L202.55,379.55 L202.89,380.18 M205.53,386.75 L205.71,387.25 L205.90,387.78 L206.08,388.31 L206.27,388.84 L206.46,389.37 L206.65,389.91 L206.83,390.43 M209.19,397.13 L209.38,397.66 L209.58,398.19 L209.77,398.72 L209.97,399.25 L210.16,399.77 L210.36,400.29 L210.55,400.78 M213.17,407.22 L213.40,407.72 L213.63,408.24 L213.86,408.75 L214.10,409.28 L214.34,409.78 L214.57,410.27 L214.81,410.76 M218.46,417.40 L218.76,417.88 L219.07,418.36 L219.37,418.83 L219.69,419.31 L220.00,419.77 L220.31,420.23 L220.61,420.66 M224.82,426.08 L225.19,426.51 L225.56,426.93 L225.94,427.36 L226.32,427.76 L226.70,428.17 L227.07,428.57 L227.45,428.96 M232.95,434.02 L233.38,434.38 L233.82,434.74 L234.25,435.10 L234.69,435.45 L235.12,435.80 L235.56,436.14 L235.98,436.47 M242.09,440.84 L242.55,441.15 L243.02,441.45 L243.49,441.76 L243.98,442.06 L244.45,442.36 L244.92,442.65 L245.38,442.93 M252.03,446.74 L252.52,447.01 L253.01,447.27 L253.52,447.53 L254.00,447.79 L254.51,448.05 L255.00,448.30 L255.49,448.55 M262.56,451.89 L263.07,452.11 L263.59,452.33 L264.11,452.54 L264.62,452.75 L265.14,452.96 L265.66,453.16 L266.17,453.36 M272.96,455.76 L273.49,455.94 L274.03,456.11 L274.56,456.29 L275.08,456.46 L275.61,456.64 L276.14,456.81 L276.66,456.98 M283.62,459.20 L284.15,459.37 L284.69,459.53 L285.22,459.70 L285.76,459.86 L286.29,460.02 L286.83,460.18 L287.35,460.34 M294.40,462.34 L294.94,462.49 L295.48,462.64 L296.02,462.78 L296.55,462.92 L297.09,463.07 L297.63,463.21 L298.17,463.35 M305.06,465.13 L305.59,465.27 L306.13,465.40 L306.67,465.54 L307.23,465.68 L307.77,465.82 L308.31,465.95 L308.84,466.09 M315.88,467.81 L316.15,467.87 L316.43,467.93 L316.70,468.00 L316.99,468.07 L317.27,468.13 L317.54,468.19 L317.82,468.26" class="imd"/>
<path d="M402.14,524.20 L402.37,524.18 L402.60,524.17 L402.82,524.16 L403.05,524.15 L403.28,524.13 L403.51,524.12 L403.73,524.11 L403.96,524.09 L404.19,524.08 L404.41,524.07 L404.64,524.06 L404.87,524.04 L405.10,524.03 L405.32,524.02 L405.55,524.01 L405.78,523.99 L406.01,523.98 L406.23,523.97 L406.46,523.96 L406.69,523.94 L406.91,523.93 L407.14,523.92 L407.37,523.90 L407.60,523.89 L407.82,523.88 L408.05,523.87 L408.28,523.85 L408.51,523.84 L408.73,523.83 L408.96,523.82 L409.19,523.80 L409.42,523.79 L409.64,523.78 L409.87,523.76 L410.10,523.75 L410.32,523.74 L410.55,523.73 L410.78,523.71 L411.01,523.70 L411.23,523.69 L411.46,523.67 L411.69,523.66 L411.92,523.65 L412.14,523.63 L412.37,523.62 L412.60,523.61 L412.83,523.59 L413.05,523.58 L413.28,523.57 L413.51,523.55 L413.73,523.54 L413.96,523.53 L414.19,523.51 L414.42,523.50 L414.64,523.48 L414.87,523.47 L415.10,523.45 L415.33,523.44 L415.55,523.43 L415.78,523.41 L416.01,523.40 L416.24,523.38 L416.46,523.37 L416.69,523.35 L416.92,523.34 L417.14,523.32 L417.37,523.31 L417.60,523.29 L417.83,523.28 L418.05,523.26 L418.28,523.25 L418.51,523.23 L418.74,523.22 L418.96,523.20 L419.19,523.18 L419.42,523.17 L419.64,523.15 L419.87,523.14 L420.10,523.12 L420.33,523.11 L420.55,523.09 L420.78,523.08 L421.01,523.06 L421.24,523.04 L421.46,523.03 L421.69,523.01 L421.92,523.00 L422.15,522.98 L422.37,522.96 L422.60,522.95 L422.83,522.93 L423.05,522.92 L423.28,522.90 L423.51,522.88 L423.74,522.87 L423.96,522.85 L424.19,522.84 L424.42,522.82 L424.65,522.80 L424.87,522.79 L425.10,522.77 L425.33,522.75 L425.56,522.74 L425.78,522.72 L426.01,522.71 L426.24,522.69 L426.47,522.67 L426.69,522.66 L426.92,522.64 L427.15,522.62 L427.38,522.61 L427.60,522.59 L427.83,522.57 L428.06,522.56 L428.29,522.54 L428.51,522.52 L428.74,522.51 L428.97,522.49 L429.19,522.47 L429.42,522.45 L429.65,522.44 L429.88,522.42 L430.10,522.40 L430.33,522.38 L430.56,522.36 L430.79,522.35 L431.01,522.33 L431.24,522.31 L431.47,522.29 L431.70,522.27 L431.92,522.25 L432.15,522.23 L432.38,522.22 L432.61,522.20 L432.83,522.18 L433.06,522.16 L433.29,522.14 L433.52,522.12 L433.74,522.10 L433.97,522.08 L434.20,522.06 L434.43,522.04 L434.65,522.02 L434.88,522.00 L435.11,521.98 L435.33,521.96 L435.56,521.93 L435.79,521.91 L436.02,521.89 L436.24,521.87 L436.47,521.85 L436.70,521.83 L436.93,521.81 L437.15,521.79 L437.38,521.76 L437.61,521.74 L437.84,521.72 L438.06,521.70 L438.29,521.67 L438.52,521.65 L438.75,521.63 L438.97,521.61 L439.20,521.59 L439.43,521.56 L439.65,521.54 L439.88,521.52 L440.11,521.49 L440.34,521.47 L440.56,521.45 L440.79,521.42 L441.02,521.40 L441.25,521.38 L441.47,521.35 L441.70,521.33 L441.93,521.31 L442.16,521.28 L442.38,521.26 L442.61,521.24 L442.84,521.21 L443.07,521.19 L443.29,521.16 L443.52,521.14 L443.75,521.11 L443.98,521.09 L444.20,521.06 L444.43,521.04 L444.66,521.02 L444.89,520.99 L445.11,520.96 L445.34,520.94 L445.57,520.91 L445.80,520.89 L446.02,520.86 L446.25,520.84 L446.48,520.81 L446.71,520.78 L446.93,520.76 L447.16,520.73 L447.39,520.70 L447.62,520.68 L447.84,520.65 L448.07,520.62 L448.30,520.59 L448.53,520.57 L448.75,520.54 L448.98,520.51 L449.21,520.48 L449.44,520.45 L449.66,520.42 L449.89,520.39 L450.12,520.36 L450.35,520.33 L450.57,520.31 L450.80,520.28 L451.03,520.25 L451.26,520.21 L451.48,520.18 L451.71,520.15 L451.94,520.12 L452.16,520.09 L452.39,520.06 L452.62,520.03 L452.85,520.00 L453.07,519.96 L453.30,519.93 L453.53,519.90 L453.76,519.87 L453.98,519.83 L454.21,519.80 L454.44,519.77 L454.67,519.73 L454.89,519.70 L455.12,519.66 L455.35,519.63 L455.58,519.60 L455.80,519.56 L456.03,519.53 L456.26,519.49 L456.48,519.46 L456.71,519.42 L456.94,519.38 L457.17,519.35 L457.39,519.31 L457.62,519.28 L457.85,519.24 L458.08,519.20 L458.30,519.16 L458.53,519.13 L458.76,519.09 L458.99,519.05 L459.21,519.01 L459.44,518.97 L459.67,518.94 L459.90,518.90 L460.12,518.86 L460.35,518.82 L460.58,518.78 L460.80,518.74 L461.03,518.70 L461.26,518.66 L461.49,518.62 L461.71,518.58 L461.94,518.53 L462.17,518.49 L462.40,518.45 L462.62,518.41 L462.85,518.37 L463.08,518.33 L463.31,518.28 L463.53,518.24 L463.76,518.20 L463.99,518.15 L464.22,518.11 L464.44,518.07 L464.67,518.02 L464.90,517.98 L465.13,517.93 L465.35,517.89 L465.58,517.84 L465.81,517.80 L466.04,517.75 L466.26,517.70 L466.49,517.66 L466.72,517.61 L466.95,517.56 L467.17,517.52 L467.40,517.47 L467.63,517.42 L467.86,517.37 L468.08,517.32 L468.31,517.27 L468.54,517.22 L468.77,517.18 L468.99,517.13 L469.22,517.08 L469.45,517.03 L469.68,516.97 L469.91,516.92 L470.13,516.87 L470.36,516.82 L470.59,516.77 L470.82,516.72 L471.05,516.67 L471.27,516.61 L471.50,516.56 L471.73,516.51 L471.96,516.45 L472.19,516.40 L472.41,516.35 L472.64,516.29 L472.87,516.24 L473.10,516.18 L473.33,516.13 L473.56,516.08 L473.79,516.02 L474.01,515.96 L474.24,515.91 L474.47,515.85 L474.70,515.80 L474.93,515.74 L475.16,515.68 L475.39,515.63 L475.62,515.57 L475.85,515.51 L476.08,515.45 L476.31,515.40 L476.54,515.34 L476.77,515.28 L477.00,515.22 L477.23,515.16 L477.46,515.10 L477.69,515.04 L477.92,514.98 L478.15,514.91 L478.38,514.85 L478.61,514.79 L478.84,514.72 L479.07,514.66 L479.30,514.59 L479.53,514.53 L479.76,514.46 L479.99,514.39 L480.22,514.32 L480.45,514.25 L480.68,514.18 L480.91,514.11 L481.14,514.04 L481.37,513.96 L481.60,513.89 L481.83,513.81 L482.06,513.74 L482.29,513.66 L482.52,513.58 L482.75,513.50 L482.97,513.42 L483.20,513.34 L483.43,513.25 L483.66,513.17 L483.89,513.08 L484.12,513.00 L484.35,512.91 L484.58,512.82 L484.80,512.73 L485.03,512.64 L485.26,512.55 L485.49,512.45 L485.71,512.36 L485.94,512.26 L486.17,512.16 L486.40,512.07 L486.62,511.97 L486.85,511.87 L487.08,511.76 L487.30,511.66 L487.53,511.56 L487.76,511.45 L487.98,511.34 L488.21,511.24 L488.44,511.13 L488.66,511.02 L488.89,510.90 L489.11,510.79 L489.34,510.68 L489.56,510.56 L489.79,510.45 L490.01,510.33 L490.24,510.21 L490.46,510.09 L490.69,509.97 L490.91,509.84 L491.13,509.72 L491.36,509.59 L491.58,509.46 L491.80,509.34 L492.03,509.21 L492.25,509.07 L492.47,508.94 L492.70,508.81 L492.92,508.67 L493.14,508.54 L493.37,508.40 L493.59,508.26 L493.81,508.12 L494.03,507.97 L494.25,507.83 L494.47,507.69 L494.70,507.54 L494.92,507.39 L495.14,507.24 L495.36,507.09 L495.58,506.94 L495.80,506.78 L496.02,506.63 L496.24,506.47 L496.46,506.31 L496.68,506.15 L496.91,505.99 L497.13,505.83 L497.35,505.66 L497.57,505.49 L497.79,505.33 L498.01,505.16 L498.23,504.99 L498.45,504.81 L498.67,504.64 L498.89,504.46 L499.11,504.29 L499.33,504.11 L499.55,503.93 L499.77,503.75 L499.99,503.56 L500.21,503.38 L500.44,503.19 L500.66,503.00 L500.88,502.81 L501.10,502.62 L501.32,502.42 L501.55,502.23 L501.77,502.03 L501.99,501.83 L502.21,501.63 L502.44,501.42 L502.66,501.22 L502.88,501.01 L503.11,500.80 L503.33,500.59 L503.56,500.37 L503.78,500.16 L504.01,499.94 L504.23,499.72 L504.46,499.49 L504.69,499.27 L504.91,499.04 L505.14,498.81 L505.37,498.57 L505.59,498.34 L505.82,498.10 L506.05,497.86 L506.28,497.61 L506.51,497.36 L506.74,497.11 L506.97,496.86 L507.20,496.60 L507.43,496.34 L507.66,496.08 L507.89,495.81 L508.12,495.54 L508.35,495.27 L508.58,494.99 L508.82,494.71 L509.05,494.43 L509.28,494.14 L509.51,493.85 L509.75,493.55 L509.98,493.25 L510.22,492.95 L510.45,492.64 L510.68,492.33 L510.92,492.01 L511.15,491.69 L511.39,491.36 L511.62,491.03 L511.86,490.70 L512.09,490.36 L512.33,490.01 L512.56,489.66 L512.80,489.31 L513.03,488.95 L513.27,488.58 L513.50,488.21 L513.73,487.83 L513.97,487.45 L514.20,487.06 L514.44,486.67 L514.67,486.27 L514.91,485.86 L515.14,485.45 L515.37,485.03 L515.61,484.61 L515.84,484.18 L516.08,483.74 L516.31,483.30 L516.54,482.85 L516.78,482.39 L517.01,481.92 L517.24,481.45 L517.48,480.97 L517.71,480.49 L517.94,479.99 L518.17,479.49 L518.41,478.98 L518.64,478.46 L518.87,477.94 L519.10,477.41 L519.34,476.86 L519.57,476.31 L519.80,475.76 L520.03,475.19 L520.27,474.61 L520.50,474.03 L520.73,473.43 L520.97,472.83 L521.20,472.22 L521.44,471.60 L521.67,470.96 L521.91,470.32 L522.15,469.67 L522.39,469.01 L522.63,468.34 L522.87,467.65 L523.11,466.96 L523.35,466.26 L523.59,465.54 L523.84,464.81 L524.08,464.07 L524.32,463.32 L524.56,462.56 L524.80,461.78 L525.04,460.99 L525.28,460.18 L525.51,459.37 L525.75,458.54 L525.98,457.69 L526.21,456.83 L526.43,455.96 L526.66,455.07 L526.88,454.16 L527.09,453.24 L527.31,452.31 L527.52,451.36 L527.72,450.39 L527.92,449.41 L528.12,448.40 L528.31,447.39 L528.50,446.35 L528.68,445.30 L528.86,444.23 L529.04,443.15 L529.22,442.04 L529.39,440.92 L529.56,439.78 L529.74,438.63 L529.91,437.45 L530.09,436.26 L530.26,435.05 L530.44,433.83 L530.63,432.58 L530.82,431.32 L531.01,430.03 L531.21,428.73 L531.42,427.42 L531.63,426.08 L531.85,424.72 L532.07,423.34 L532.29,421.95 L532.51,420.53 L532.74,419.10 L532.97,417.64 L533.19,416.16 L533.42,414.66 L533.65,413.15 L533.88,411.61 L534.12,410.05 L534.35,408.47 L534.59,406.87 L534.83,405.26 L535.07,403.62 L535.31,401.96 L535.56,400.28 L535.81,398.59 L536.06,396.88 L536.32,395.15 L536.58,393.40 L536.84,391.63 L537.10,389.85 L537.37,388.05 L537.64,386.24 L537.90,384.41 L538.17,382.56 L538.43,380.71 L538.68,378.84 L538.93,376.95 L539.17,375.06 L539.41,373.16 L539.65,371.25 L539.89,369.33 L540.12,367.41 L540.35,365.48 L540.58,363.55 L540.81,361.63 L541.05,359.70 L541.29,357.77 L541.54,355.86 L541.80,353.95 L542.07,352.05 L542.34,350.16 L542.60,348.28 L542.85,346.42 L543.09,344.57 L543.32,342.74 L543.54,340.93 L543.76,339.15 L543.98,337.40 L544.19,335.67 L544.41,333.98 L544.62,332.33 L544.83,330.71 L545.03,329.13 L545.23,327.59 L545.42,326.11 L545.62,324.66 L545.81,323.27 L546.00,321.94 L546.19,320.66 L546.38,319.44 L546.59,318.29 L546.79,317.20 L547.00,316.18 L547.22,315.22 L547.44,314.34 L547.66,313.53 L547.89,312.80 L548.11,312.14 L548.34,311.56 L548.57,311.06 L548.80,310.64 L549.04,310.29 L549.29,310.02 L549.56,309.83 L549.86,309.73 L550.17,309.75 L550.46,309.87 L550.73,310.09 L550.98,310.38 L551.22,310.75 L551.46,311.20 L551.70,311.73 L551.94,312.34 L552.17,313.02 L552.41,313.79 L552.64,314.63 L552.88,315.54 L553.12,316.53 L553.35,317.59 L553.58,318.72 L553.81,319.91 L554.04,321.17 L554.27,322.50 L554.49,323.88 L554.70,325.32 L554.92,326.81 L555.14,328.36 L555.36,329.95 L555.58,331.59 L555.81,333.27 L556.04,334.99 L556.27,336.75 L556.51,338.54 L556.75,340.37 L556.99,342.22 L557.22,344.10 L557.45,346.01 L557.67,347.93 L557.88,349.88 L558.09,351.84 L558.29,353.82 L558.50,355.81 L558.72,357.80 L558.94,359.81 L559.17,361.81 L559.40,363.82 L559.65,365.83 L559.91,367.84 L560.19,369.84 L560.48,371.84 L560.76,373.83 L561.03,375.82 L561.28,377.80 L561.52,379.77 L561.74,381.73 L561.96,383.68 L562.16,385.62 L562.36,387.55 L562.55,389.46 L562.76,391.36 L562.97,393.23 L563.19,395.09 L563.42,396.93 L563.64,398.75 L563.86,400.55 L564.07,402.33 L564.28,404.09 L564.46,405.84 L564.63,407.57 L564.79,409.27 L564.95,410.96 L565.11,412.62 L565.29,414.27 L565.48,415.88 L565.69,417.47 L565.91,419.04 L566.13,420.59 L566.36,422.11 L566.59,423.61 L566.82,425.09 L567.06,426.55 L567.30,427.98 L567.54,429.39 L567.78,430.78 L568.01,432.15 L568.25,433.50 L568.48,434.83 L568.71,436.14 L568.94,437.42 L569.17,438.69 L569.39,439.93 L569.62,441.16 L569.85,442.36 L570.07,443.55 L570.29,444.72 L570.51,445.87 L570.72,447.00 L570.93,448.11 L571.14,449.21 L571.35,450.28 L571.55,451.35 L571.76,452.39 L571.97,453.41 L572.18,454.42 L572.40,455.41 L572.61,456.38 L572.84,457.34 L573.06,458.28 L573.29,459.20 L573.51,460.11 L573.74,461.00 L573.98,461.87 L574.21,462.73 L574.45,463.58 L574.69,464.41 L574.93,465.22 L575.18,466.02 L575.43,466.81 L575.69,467.58 L575.94,468.33 L576.20,469.07 L576.46,469.80 L576.72,470.52 L576.98,471.23 L577.23,471.92 L577.47,472.61 L577.71,473.28 L577.95,473.95 L578.17,474.60 L578.40,475.25 L578.62,475.89 L578.84,476.52 L579.05,477.14 L579.27,477.75 L579.48,478.35 L579.68,478.94 L579.89,479.53 L580.10,480.10 L580.30,480.67 L580.50,481.23 L580.71,481.78 L580.91,482.32 L581.11,482.86 L581.31,483.38 L581.51,483.90 L581.71,484.41 L581.91,484.92 L582.11,485.42 L582.31,485.90 L582.52,486.39 L582.72,486.86 L582.92,487.33 L583.12,487.79 L583.33,488.24 L583.54,488.69 L583.74,489.13 L583.95,489.57 L584.16,489.99 L584.37,490.41 L584.58,490.83 L584.79,491.23 L585.01,491.63 L585.22,492.03 L585.44,492.42 L585.66,492.80 L585.88,493.17 L586.10,493.54 L586.32,493.91 L586.54,494.27 L586.77,494.62 L586.99,494.96 L587.22,495.30 L587.44,495.64 L587.67,495.97 L587.90,496.30 L588.13,496.61 L588.36,496.93 L588.59,497.24 L588.83,497.54 L589.06,497.84 L589.29,498.14 L589.53,498.43 L589.76,498.71 L590.00,498.99 L590.23,499.27 L590.47,499.54 L590.71,499.81 L590.94,500.07 L591.18,500.33 L591.42,500.58 L591.66,500.83 L591.90,501.08 L592.14,501.32 L592.38,501.56 L592.62,501.80 L592.86,502.03 L593.10,502.25 L593.34,502.47 L593.59,502.69 L593.83,502.91 L594.07,503.12 L594.31,503.33 L594.56,503.53 L594.80,503.73 L595.04,503.93 L595.29,504.13 L595.53,504.32 L595.77,504.51 L596.02,504.69 L596.26,504.87 L596.50,505.05 L596.75,505.23 L596.99,505.40 L597.23,505.57 L597.48,505.74 L597.72,505.91 L597.96,506.07 L598.20,506.23 L598.44,506.39 L598.69,506.55 L598.93,506.70 L599.17,506.85 L599.41,507.00 L599.65,507.15 L599.89,507.30 L600.12,507.44 L600.36,507.59 L600.60,507.73 L600.84,507.87 L601.07,508.00 L601.31,508.14 L601.55,508.28 L601.78,508.41 L602.02,508.54 L602.25,508.67 L602.49,508.80 L602.72,508.93 L602.96,509.05 L603.19,509.18 L603.42,509.30 L603.66,509.42 L603.89,509.55 L604.12,509.66 L604.36,509.78 L604.59,509.90 L604.82,510.01 L605.05,510.13 L605.28,510.24 L605.52,510.35 L605.75,510.46 L605.98,510.57 L606.21,510.67 L606.44,510.78 L606.67,510.88 L606.90,510.99 L607.13,511.09 L607.36,511.19 L607.59,511.29 L607.83,511.39 L608.06,511.48 L608.29,511.58 L608.52,511.67 L608.75,511.77 L608.98,511.86 L609.20,511.95 L609.43,512.04 L609.66,512.13 L609.89,512.22 L610.12,512.31 L610.35,512.40 L610.58,512.49 L610.81,512.57 L611.04,512.66 L611.26,512.74 L611.49,512.83 L611.72,512.91 L611.95,512.99 L612.18,513.07 L612.40,513.16 L612.63,513.24 L612.86,513.32 L613.08,513.40 L613.31,513.48 L613.54,513.56 L613.76,513.64 L613.99,513.71 L614.22,513.79 L614.44,513.87 L614.67,513.95 L614.89,514.02 L615.12,514.10 L615.34,514.17 L615.57,514.25 L615.80,514.32 L616.02,514.40 L616.25,514.47 L616.47,514.55 L616.70,514.62 L616.92,514.69 L617.15,514.76 L617.37,514.84 L617.60,514.91 L617.82,514.98 L618.04,515.05 L618.27,515.12 L618.49,515.19 L618.72,515.26 L618.94,515.33 L619.17,515.40 L619.39,515.46 L619.62,515.53 L619.84,515.60 L620.07,515.67 L620.29,515.73 L620.51,515.80 L620.74,515.87 L620.96,515.93 L621.19,516.00 L621.41,516.06 L621.64,516.13 L621.86,516.19 L622.09,516.25 L622.31,516.32 L622.53,516.38 L622.76,516.44 L622.98,516.50 L623.21,516.57 L623.43,516.63 L623.66,516.69 L623.88,516.75 L624.11,516.81 L624.33,516.87 L624.55,516.93 L624.78,516.99 L625.00,517.05 L625.23,517.11 L625.45,517.17 L625.68,517.22 L625.90,517.28 L626.13,517.34 L626.35,517.40 L626.58,517.45 L626.80,517.51 L627.02,517.56 L627.25,517.62 L627.47,517.68 L627.70,517.73 L627.92,517.78 L628.15,517.84 L628.37,517.89 L628.60,517.95 L628.82,518.00 L629.05,518.05 L629.27,518.10 L629.50,518.15 L629.72,518.21 L629.95,518.26 L630.18,518.31 L630.40,518.36 L630.63,518.40 L630.85,518.45 L631.08,518.50 L631.30,518.55 L631.53,518.60 L631.75,518.64 L631.98,518.69 L632.21,518.74 L632.43,518.78 L632.66,518.83 L632.88,518.87 L633.11,518.91 L633.33,518.96 L633.56,519.00 L633.79,519.04 L634.01,519.09 L634.24,519.13 L634.47,519.17 L634.69,519.21 L634.92,519.25 L635.14,519.29 L635.37,519.33 L635.60,519.37 L635.82,519.41 L636.05,519.45 L636.28,519.48 L636.50,519.52 L636.73,519.56 L636.96,519.59 L637.18,519.63 L637.41,519.67 L637.64,519.70 L637.86,519.74 L638.09,519.77 L638.32,519.81 L638.54,519.84 L638.77,519.88 L639.00,519.91 L639.22,519.94 L639.45,519.98 L639.68,520.01 L639.90,520.04 L640.13,520.07 L640.36,520.11 L640.58,520.14 L640.81,520.17 L641.04,520.20 L641.27,520.23 L641.49,520.26 L641.72,520.29 L641.95,520.32 L642.17,520.35 L642.40,520.38 L642.63,520.41 L642.85,520.44 L643.08,520.47 L643.31,520.50 L643.54,520.53 L643.76,520.56 L643.99,520.58 L644.22,520.61 L644.44,520.64 L644.67,520.67 L644.90,520.69 L645.12,520.72 L645.35,520.75 L645.58,520.78 L645.81,520.80 L646.03,520.83 L646.26,520.85 L646.49,520.88 L646.71,520.91 L646.94,520.93 L647.17,520.96 L647.40,520.98 L647.62,521.01 L647.85,521.03 L648.08,521.06 L648.30,521.08 L648.53,521.11 L648.76,521.13 L648.98,521.16 L649.21,521.18 L649.44,521.21 L649.67,521.23 L649.89,521.25 L650.12,521.28 L650.35,521.30 L650.57,521.33 L650.80,521.35 L651.03,521.37 L651.26,521.40 L651.48,521.42 L651.71,521.44 L651.94,521.46 L652.16,521.49 L652.39,521.51 L652.62,521.53 L652.85,521.55 L653.07,521.58 L653.30,521.60 L653.53,521.62 L653.75,521.64 L653.98,521.66 L654.21,521.68 L654.44,521.70 L654.66,521.73 L654.89,521.75 L655.12,521.77 L655.34,521.79 L655.57,521.81 L655.80,521.83 L656.03,521.85 L656.25,521.87 L656.48,521.89 L656.71,521.91 L656.93,521.93 L657.16,521.95 L657.39,521.97 L657.62,521.99 L657.84,522.01 L658.07,522.03 L658.30,522.04 L658.52,522.06 L658.75,522.08 L658.98,522.10 L659.21,522.12 L659.43,522.14 L659.66,522.16 L659.89,522.18 L660.11,522.20 L660.34,522.21 L660.57,522.23 L660.80,522.25 L661.02,522.27 L661.25,522.29 L661.48,522.31 L661.70,522.33 L661.93,522.34 L662.16,522.36 L662.39,522.38 L662.61,522.40 L662.84,522.42 L663.07,522.44 L663.29,522.45 L663.52,522.47 L663.75,522.49 L663.98,522.51 L664.20,522.53 L664.43,522.54 L664.66,522.56 L664.88,522.58 L665.11,522.60 L665.34,522.62 L665.57,522.64 L665.79,522.65 L666.02,522.67 L666.25,522.69 L666.47,522.71 L666.70,522.72 L666.93,522.74 L667.16,522.76 L667.38,522.78 L667.61,522.79 L667.84,522.81 L668.06,522.83 L668.29,522.84 L668.52,522.86 L668.75,522.88 L668.97,522.89 L669.20,522.91 L669.43,522.92 L669.65,522.94 L669.88,522.95 L670.11,522.97 L670.34,522.98 L670.56,523.00 L670.79,523.01 L671.02,523.03 L671.25,523.04 L671.47,523.06 L671.70,523.07 L671.93,523.08 L672.15,523.10 L672.38,523.11 L672.61,523.12 L672.84,523.13 L673.06,523.15 L673.29,523.16 L673.52,523.17 L673.75,523.18 L673.97,523.20 L674.20,523.21 L674.43,523.22 L674.66,523.23 L674.88,523.24" class="re"/>
<!-- axis titles -->
<text x="128.6" y="264.7" class="ax" style="font-size:13.5px">Frequency (GHz)</text>
<text x="480.9" y="261.3" class="ax" style="font-size:13.45px">Frequency (GHz)</text>
<text x="126.0" y="576" class="ax">Frequency (GHz)</text>
<text x="486.1" y="563.7" class="ax">Frequency (GHz)</text>
<text transform="translate(10.4,179.9) rotate(-90)" class="ax" style="font-size:13.4px">Effective Permittivity</text>
<text transform="translate(367.3,183.1) rotate(-90)" class="ax" style="font-size:13.4px">Effective Permeability</text>
<text transform="translate(10.3,490.4) rotate(-90)" class="ax" style="font-size:13.4px">relative impedance</text>
<text transform="translate(370.1,456.4) rotate(-90)" class="ax" style="font-size:14px">Absorption</text>
<!-- panel labels -->
<text x="155.6" y="285.9" class="pl">(a)</text>
<text x="510.2" y="285.9" class="pl">(b)</text>
<text x="156.1" y="596.1" class="pls">(c)</text>
<text x="510.8" y="587" class="pls">(d)</text>
<!-- legends -->
<rect x="229.40" y="11.60" width="85.80" height="26.10" class="lgb"/>
<line x1="232.35" y1="18.20" x2="256.65" y2="18.20" class="lgre"/>
<line x1="232.35" y1="31.60" x2="235.65" y2="31.60" class="imd"/>
<line x1="243.25" y1="31.60" x2="247.25" y2="31.60" class="imd"/>
<line x1="254.65" y1="31.60" x2="256.95" y2="31.60" class="imd"/>
<text transform="translate(260.80,21.50) scale(1,1.08)" class="lg">Real</text>
<text transform="translate(260.80,35.50) scale(1,1.08)" class="lg">Imaginary</text>
<rect x="581.30" y="10.60" width="85.40" height="26.40" class="lgb"/>
<line x1="584.35" y1="17.20" x2="608.65" y2="17.20" class="lgre"/>
<line x1="584.35" y1="30.70" x2="587.65" y2="30.70" class="imd"/>
<line x1="595.25" y1="30.70" x2="599.25" y2="30.70" class="imd"/>
<line x1="606.65" y1="30.70" x2="608.95" y2="30.70" class="imd"/>
<text transform="translate(612.90,20.50) scale(1,1.08)" class="lg">Real</text>
<text transform="translate(612.90,34.50) scale(1,1.08)" class="lg">Imaginary</text>
<rect x="228.30" y="334.50" width="85.40" height="26.90" class="lgb"/>
<line x1="231.25" y1="340.80" x2="255.55" y2="340.80" class="lgre"/>
<line x1="231.25" y1="355.10" x2="234.55" y2="355.10" class="imd"/>
<line x1="242.15" y1="355.10" x2="246.15" y2="355.10" class="imd"/>
<line x1="253.55" y1="355.10" x2="255.85" y2="355.10" class="imd"/>
<text transform="translate(259.50,344.60) scale(1,1.08)" class="lg">Real</text>
<text transform="translate(259.50,358.60) scale(1,1.08)" class="lg">Imaginary</text>
<!-- vertical dash-dot lines -->
<line x1="192.2" y1="322.4" x2="192.2" y2="543.6" class="ddb" style="stroke-dashoffset:0.6"/>
<line x1="550.3" y1="311.7" x2="550.3" y2="529.8" class="ddr" style="stroke-dashoffset:1.2"/>
<!-- annotations -->
<text x="79.6" y="337.5" class="an">Z<tspan font-size="7" dy="3">r</tspan><tspan dy="-3"> = 0.99 + j 0.024 </tspan><tspan class="om">&#937;</tspan></text>
<text x="479.3" y="524.7" class="an2">f<tspan font-size="7.6" dy="3.6">0</tspan><tspan dy="-3.6"> = 28.09 GHz</tspan></text>

</svg>
</body></html>
